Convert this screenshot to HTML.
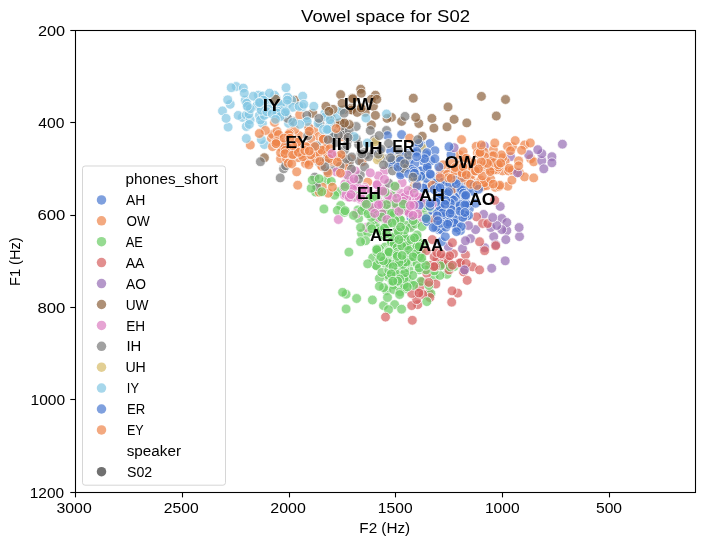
<!DOCTYPE html>
<html><head><meta charset="utf-8"><title>Vowel space for S02</title>
<style>
html,body{margin:0;padding:0;background:#fff;}
body{width:704px;height:545px;overflow:hidden;font-family:"Liberation Sans",sans-serif;}
svg{display:block;will-change:transform;opacity:0.999;}
text{font-family:"Liberation Sans",sans-serif;fill:#000;}
.tl{font-size:14px;}
.ti{font-size:16.6px;}
.lb{font-size:16.2px;font-weight:bold;}
.tk{stroke:#000;stroke-width:1.1;}
.pts circle{fill-opacity:0.7;stroke:#fff;stroke-width:1;stroke-opacity:0.7;}
</style></head><body>
<svg width="704" height="545" viewBox="0 0 704 545">
<rect x="0" y="0" width="704" height="545" fill="#fff"/>
<g class="pts">
<circle cx="288.6" cy="123.4" r="4.9" fill="#82c6e2"/>
<circle cx="407.9" cy="281.3" r="4.9" fill="#6acc64"/>
<circle cx="401.6" cy="134.6" r="4.9" fill="#4878d0"/>
<circle cx="478.2" cy="169.6" r="4.9" fill="#ee854a"/>
<circle cx="453.1" cy="190.0" r="4.9" fill="#4878d0"/>
<circle cx="400.9" cy="220.5" r="4.9" fill="#6acc64"/>
<circle cx="395.1" cy="216.4" r="4.9" fill="#dc7ec0"/>
<circle cx="388.1" cy="252.2" r="4.9" fill="#6acc64"/>
<circle cx="283.6" cy="168.8" r="4.9" fill="#797979"/>
<circle cx="502.5" cy="170.9" r="4.9" fill="#ee854a"/>
<circle cx="400.3" cy="165.3" r="4.9" fill="#797979"/>
<circle cx="429.9" cy="143.6" r="4.9" fill="#4878d0"/>
<circle cx="411.7" cy="283.0" r="4.9" fill="#6acc64"/>
<circle cx="460.8" cy="210.0" r="4.9" fill="#4878d0"/>
<circle cx="365.3" cy="154.9" r="4.9" fill="#797979"/>
<circle cx="400.1" cy="249.9" r="4.9" fill="#6acc64"/>
<circle cx="390.7" cy="242.6" r="4.9" fill="#6acc64"/>
<circle cx="286.6" cy="148.6" r="4.9" fill="#ee854a"/>
<circle cx="413.1" cy="188.2" r="4.9" fill="#6acc64"/>
<circle cx="470.5" cy="238.6" r="4.9" fill="#956cb4"/>
<circle cx="380.0" cy="231.4" r="4.9" fill="#6acc64"/>
<circle cx="510.5" cy="156.7" r="4.9" fill="#956cb4"/>
<circle cx="434.9" cy="201.4" r="4.9" fill="#4878d0"/>
<circle cx="422.7" cy="281.6" r="4.9" fill="#d65f5f"/>
<circle cx="400.4" cy="266.3" r="4.9" fill="#6acc64"/>
<circle cx="417.8" cy="242.1" r="4.9" fill="#6acc64"/>
<circle cx="448.0" cy="106.9" r="4.9" fill="#8c613c"/>
<circle cx="375.8" cy="218.6" r="4.9" fill="#6acc64"/>
<circle cx="401.5" cy="207.7" r="4.9" fill="#dc7ec0"/>
<circle cx="320.9" cy="164.8" r="4.9" fill="#ee854a"/>
<circle cx="361.2" cy="108.9" r="4.9" fill="#8c613c"/>
<circle cx="465.5" cy="254.8" r="4.9" fill="#d65f5f"/>
<circle cx="299.1" cy="135.6" r="4.9" fill="#ee854a"/>
<circle cx="454.1" cy="266.6" r="4.9" fill="#6acc64"/>
<circle cx="457.5" cy="185.4" r="4.9" fill="#4878d0"/>
<circle cx="454.7" cy="196.0" r="4.9" fill="#4878d0"/>
<circle cx="351.2" cy="158.8" r="4.9" fill="#ee854a"/>
<circle cx="454.2" cy="208.0" r="4.9" fill="#4878d0"/>
<circle cx="230.2" cy="104.3" r="4.9" fill="#82c6e2"/>
<circle cx="381.8" cy="249.7" r="4.9" fill="#6acc64"/>
<circle cx="246.3" cy="126.5" r="4.9" fill="#82c6e2"/>
<circle cx="394.9" cy="241.7" r="4.9" fill="#6acc64"/>
<circle cx="383.5" cy="305.6" r="4.9" fill="#6acc64"/>
<circle cx="366.3" cy="154.7" r="4.9" fill="#797979"/>
<circle cx="373.3" cy="153.1" r="4.9" fill="#797979"/>
<circle cx="280.6" cy="158.7" r="4.9" fill="#ee854a"/>
<circle cx="464.5" cy="177.1" r="4.9" fill="#4878d0"/>
<circle cx="372.7" cy="257.8" r="4.9" fill="#6acc64"/>
<circle cx="236.2" cy="86.5" r="4.9" fill="#82c6e2"/>
<circle cx="285.6" cy="165.8" r="4.9" fill="#797979"/>
<circle cx="403.2" cy="199.2" r="4.9" fill="#dc7ec0"/>
<circle cx="493.7" cy="236.6" r="4.9" fill="#956cb4"/>
<circle cx="351.0" cy="109.8" r="4.9" fill="#8c613c"/>
<circle cx="479.0" cy="171.0" r="4.9" fill="#ee854a"/>
<circle cx="412.8" cy="178.7" r="4.9" fill="#4878d0"/>
<circle cx="444.3" cy="219.5" r="4.9" fill="#4878d0"/>
<circle cx="306.2" cy="120.0" r="4.9" fill="#82c6e2"/>
<circle cx="361.6" cy="161.3" r="4.9" fill="#ee854a"/>
<circle cx="410.7" cy="167.8" r="4.9" fill="#4878d0"/>
<circle cx="270.1" cy="101.1" r="4.9" fill="#82c6e2"/>
<circle cx="352.2" cy="187.7" r="4.9" fill="#dc7ec0"/>
<circle cx="390.9" cy="194.3" r="4.9" fill="#dc7ec0"/>
<circle cx="333.9" cy="167.4" r="4.9" fill="#797979"/>
<circle cx="459.4" cy="263.3" r="4.9" fill="#d65f5f"/>
<circle cx="462.9" cy="192.5" r="4.9" fill="#4878d0"/>
<circle cx="420.8" cy="176.9" r="4.9" fill="#6acc64"/>
<circle cx="345.5" cy="158.6" r="4.9" fill="#ee854a"/>
<circle cx="360.8" cy="193.7" r="4.9" fill="#dc7ec0"/>
<circle cx="280.4" cy="145.2" r="4.9" fill="#ee854a"/>
<circle cx="262.7" cy="115.6" r="4.9" fill="#82c6e2"/>
<circle cx="407.7" cy="153.7" r="4.9" fill="#4878d0"/>
<circle cx="459.1" cy="154.7" r="4.9" fill="#ee854a"/>
<circle cx="460.0" cy="208.3" r="4.9" fill="#4878d0"/>
<circle cx="294.7" cy="100.2" r="4.9" fill="#8c613c"/>
<circle cx="433.0" cy="211.0" r="4.9" fill="#4878d0"/>
<circle cx="432.2" cy="239.6" r="4.9" fill="#d65f5f"/>
<circle cx="262.4" cy="123.4" r="4.9" fill="#82c6e2"/>
<circle cx="451.1" cy="216.1" r="4.9" fill="#4878d0"/>
<circle cx="448.4" cy="209.6" r="4.9" fill="#4878d0"/>
<circle cx="444.2" cy="204.1" r="4.9" fill="#4878d0"/>
<circle cx="409.9" cy="249.7" r="4.9" fill="#6acc64"/>
<circle cx="386.5" cy="290.5" r="4.9" fill="#6acc64"/>
<circle cx="418.3" cy="292.3" r="4.9" fill="#d65f5f"/>
<circle cx="297.9" cy="157.7" r="4.9" fill="#ee854a"/>
<circle cx="470.6" cy="164.8" r="4.9" fill="#ee854a"/>
<circle cx="361.6" cy="233.6" r="4.9" fill="#6acc64"/>
<circle cx="484.9" cy="181.9" r="4.9" fill="#ee854a"/>
<circle cx="402.9" cy="253.1" r="4.9" fill="#6acc64"/>
<circle cx="480.5" cy="187.1" r="4.9" fill="#ee854a"/>
<circle cx="318.9" cy="161.7" r="4.9" fill="#797979"/>
<circle cx="379.9" cy="157.7" r="4.9" fill="#797979"/>
<circle cx="519.6" cy="172.9" r="4.9" fill="#ee854a"/>
<circle cx="295.0" cy="150.6" r="4.9" fill="#ee854a"/>
<circle cx="414.6" cy="185.8" r="4.9" fill="#ee854a"/>
<circle cx="291.7" cy="100.2" r="4.9" fill="#82c6e2"/>
<circle cx="506.8" cy="230.6" r="4.9" fill="#956cb4"/>
<circle cx="453.4" cy="253.8" r="4.9" fill="#d65f5f"/>
<circle cx="441.3" cy="192.2" r="4.9" fill="#4878d0"/>
<circle cx="431.6" cy="207.8" r="4.9" fill="#4878d0"/>
<circle cx="383.7" cy="233.0" r="4.9" fill="#6acc64"/>
<circle cx="462.5" cy="248.7" r="4.9" fill="#956cb4"/>
<circle cx="259.4" cy="115.4" r="4.9" fill="#82c6e2"/>
<circle cx="376.9" cy="184.8" r="4.9" fill="#dc7ec0"/>
<circle cx="453.4" cy="218.5" r="4.9" fill="#6acc64"/>
<circle cx="390.4" cy="258.4" r="4.9" fill="#6acc64"/>
<circle cx="524.6" cy="176.9" r="4.9" fill="#ee854a"/>
<circle cx="417.8" cy="304.6" r="4.9" fill="#d65f5f"/>
<circle cx="287.6" cy="97.2" r="4.9" fill="#82c6e2"/>
<circle cx="453.5" cy="214.8" r="4.9" fill="#4878d0"/>
<circle cx="271.4" cy="138.4" r="4.9" fill="#ee854a"/>
<circle cx="294.7" cy="129.5" r="4.9" fill="#ee854a"/>
<circle cx="403.6" cy="167.8" r="4.9" fill="#4878d0"/>
<circle cx="262.0" cy="107.5" r="4.9" fill="#82c6e2"/>
<circle cx="260.4" cy="120.0" r="4.9" fill="#82c6e2"/>
<circle cx="415.6" cy="181.5" r="4.9" fill="#ee854a"/>
<circle cx="340.7" cy="205.5" r="4.9" fill="#6acc64"/>
<circle cx="424.2" cy="214.4" r="4.9" fill="#6acc64"/>
<circle cx="379.4" cy="150.7" r="4.9" fill="#4878d0"/>
<circle cx="372.4" cy="200.0" r="4.9" fill="#6acc64"/>
<circle cx="428.9" cy="293.2" r="4.9" fill="#d65f5f"/>
<circle cx="461.1" cy="218.7" r="4.9" fill="#4878d0"/>
<circle cx="463.4" cy="179.9" r="4.9" fill="#ee854a"/>
<circle cx="501.8" cy="218.5" r="4.9" fill="#956cb4"/>
<circle cx="390.7" cy="254.4" r="4.9" fill="#6acc64"/>
<circle cx="306.8" cy="160.7" r="4.9" fill="#ee854a"/>
<circle cx="362.1" cy="161.8" r="4.9" fill="#ee854a"/>
<circle cx="394.9" cy="205.3" r="4.9" fill="#dc7ec0"/>
<circle cx="411.7" cy="305.6" r="4.9" fill="#d65f5f"/>
<circle cx="436.9" cy="263.5" r="4.9" fill="#d65f5f"/>
<circle cx="451.9" cy="210.3" r="4.9" fill="#4878d0"/>
<circle cx="430.9" cy="293.5" r="4.9" fill="#6acc64"/>
<circle cx="437.2" cy="258.9" r="4.9" fill="#d65f5f"/>
<circle cx="313.8" cy="130.5" r="4.9" fill="#ee854a"/>
<circle cx="530.7" cy="158.8" r="4.9" fill="#ee854a"/>
<circle cx="323.9" cy="209.0" r="4.9" fill="#6acc64"/>
<circle cx="392.6" cy="195.7" r="4.9" fill="#6acc64"/>
<circle cx="348.2" cy="139.6" r="4.9" fill="#797979"/>
<circle cx="512.5" cy="146.7" r="4.9" fill="#ee854a"/>
<circle cx="398.9" cy="226.5" r="4.9" fill="#dc7ec0"/>
<circle cx="358.6" cy="144.6" r="4.9" fill="#797979"/>
<circle cx="410.6" cy="242.3" r="4.9" fill="#6acc64"/>
<circle cx="505.5" cy="99.5" r="4.9" fill="#8c613c"/>
<circle cx="422.1" cy="261.8" r="4.9" fill="#6acc64"/>
<circle cx="280.6" cy="146.6" r="4.9" fill="#ee854a"/>
<circle cx="404.4" cy="244.6" r="4.9" fill="#6acc64"/>
<circle cx="272.5" cy="134.5" r="4.9" fill="#ee854a"/>
<circle cx="438.6" cy="219.0" r="4.9" fill="#4878d0"/>
<circle cx="507.8" cy="186.2" r="4.9" fill="#ee854a"/>
<circle cx="367.7" cy="182.1" r="4.9" fill="#ee854a"/>
<circle cx="318.9" cy="136.5" r="4.9" fill="#ee854a"/>
<circle cx="459.2" cy="190.5" r="4.9" fill="#4878d0"/>
<circle cx="471.4" cy="180.7" r="4.9" fill="#ee854a"/>
<circle cx="361.8" cy="188.4" r="4.9" fill="#dc7ec0"/>
<circle cx="458.9" cy="214.6" r="4.9" fill="#4878d0"/>
<circle cx="458.4" cy="204.7" r="4.9" fill="#4878d0"/>
<circle cx="407.8" cy="166.0" r="4.9" fill="#4878d0"/>
<circle cx="446.9" cy="218.4" r="4.9" fill="#4878d0"/>
<circle cx="308.1" cy="127.3" r="4.9" fill="#82c6e2"/>
<circle cx="242.3" cy="117.4" r="4.9" fill="#82c6e2"/>
<circle cx="343.3" cy="109.8" r="4.9" fill="#8c613c"/>
<circle cx="433.9" cy="276.4" r="4.9" fill="#6acc64"/>
<circle cx="484.6" cy="247.7" r="4.9" fill="#956cb4"/>
<circle cx="402.1" cy="182.8" r="4.9" fill="#dc7ec0"/>
<circle cx="386.5" cy="213.6" r="4.9" fill="#dc7ec0"/>
<circle cx="409.0" cy="269.9" r="4.9" fill="#6acc64"/>
<circle cx="250.3" cy="145.0" r="4.9" fill="#ee854a"/>
<circle cx="404.9" cy="250.0" r="4.9" fill="#6acc64"/>
<circle cx="364.8" cy="187.7" r="4.9" fill="#dc7ec0"/>
<circle cx="341.6" cy="123.0" r="4.9" fill="#8c613c"/>
<circle cx="486.7" cy="169.0" r="4.9" fill="#ee854a"/>
<circle cx="394.9" cy="252.3" r="4.9" fill="#6acc64"/>
<circle cx="322.9" cy="137.5" r="4.9" fill="#ee854a"/>
<circle cx="398.0" cy="237.6" r="4.9" fill="#6acc64"/>
<circle cx="533.7" cy="177.9" r="4.9" fill="#ee854a"/>
<circle cx="481.5" cy="168.5" r="4.9" fill="#ee854a"/>
<circle cx="468.9" cy="166.1" r="4.9" fill="#ee854a"/>
<circle cx="414.5" cy="245.6" r="4.9" fill="#6acc64"/>
<circle cx="454.7" cy="200.4" r="4.9" fill="#4878d0"/>
<circle cx="293.7" cy="121.4" r="4.9" fill="#797979"/>
<circle cx="376.3" cy="220.8" r="4.9" fill="#6acc64"/>
<circle cx="411.0" cy="217.5" r="4.9" fill="#4878d0"/>
<circle cx="428.0" cy="219.1" r="4.9" fill="#6acc64"/>
<circle cx="382.5" cy="157.9" r="4.9" fill="#797979"/>
<circle cx="446.3" cy="191.2" r="4.9" fill="#4878d0"/>
<circle cx="505.1" cy="161.4" r="4.9" fill="#ee854a"/>
<circle cx="505.2" cy="260.8" r="4.9" fill="#956cb4"/>
<circle cx="365.1" cy="210.3" r="4.9" fill="#6acc64"/>
<circle cx="310.0" cy="161.1" r="4.9" fill="#ee854a"/>
<circle cx="282.6" cy="115.4" r="4.9" fill="#82c6e2"/>
<circle cx="280.8" cy="114.1" r="4.9" fill="#82c6e2"/>
<circle cx="344.5" cy="195.3" r="4.9" fill="#dc7ec0"/>
<circle cx="463.2" cy="183.2" r="4.9" fill="#4878d0"/>
<circle cx="319.9" cy="123.4" r="4.9" fill="#797979"/>
<circle cx="411.0" cy="225.5" r="4.9" fill="#dc7ec0"/>
<circle cx="301.4" cy="146.8" r="4.9" fill="#ee854a"/>
<circle cx="444.6" cy="207.6" r="4.9" fill="#4878d0"/>
<circle cx="347.1" cy="161.9" r="4.9" fill="#ee854a"/>
<circle cx="375.4" cy="95.2" r="4.9" fill="#8c613c"/>
<circle cx="401.7" cy="202.0" r="4.9" fill="#dc7ec0"/>
<circle cx="312.8" cy="113.3" r="4.9" fill="#8c613c"/>
<circle cx="399.6" cy="154.7" r="4.9" fill="#4878d0"/>
<circle cx="421.1" cy="171.1" r="4.9" fill="#4878d0"/>
<circle cx="401.6" cy="158.1" r="4.9" fill="#797979"/>
<circle cx="472.5" cy="266.9" r="4.9" fill="#d65f5f"/>
<circle cx="281.4" cy="104.8" r="4.9" fill="#82c6e2"/>
<circle cx="385.7" cy="261.0" r="4.9" fill="#6acc64"/>
<circle cx="480.6" cy="185.2" r="4.9" fill="#ee854a"/>
<circle cx="450.3" cy="169.9" r="4.9" fill="#ee854a"/>
<circle cx="428.7" cy="218.3" r="4.9" fill="#4878d0"/>
<circle cx="464.8" cy="167.7" r="4.9" fill="#ee854a"/>
<circle cx="400.9" cy="193.2" r="4.9" fill="#dc7ec0"/>
<circle cx="408.4" cy="256.3" r="4.9" fill="#6acc64"/>
<circle cx="358.6" cy="218.5" r="4.9" fill="#6acc64"/>
<circle cx="265.0" cy="100.8" r="4.9" fill="#82c6e2"/>
<circle cx="447.1" cy="257.2" r="4.9" fill="#d65f5f"/>
<circle cx="417.9" cy="200.9" r="4.9" fill="#dc7ec0"/>
<circle cx="394.7" cy="257.1" r="4.9" fill="#6acc64"/>
<circle cx="373.4" cy="106.3" r="4.9" fill="#8c613c"/>
<circle cx="347.3" cy="135.0" r="4.9" fill="#797979"/>
<circle cx="339.0" cy="161.7" r="4.9" fill="#ee854a"/>
<circle cx="481.0" cy="186.7" r="4.9" fill="#ee854a"/>
<circle cx="438.7" cy="229.5" r="4.9" fill="#4878d0"/>
<circle cx="460.6" cy="175.7" r="4.9" fill="#ee854a"/>
<circle cx="400.9" cy="173.1" r="4.9" fill="#4878d0"/>
<circle cx="339.6" cy="160.3" r="4.9" fill="#ee854a"/>
<circle cx="340.6" cy="94.6" r="4.9" fill="#8c613c"/>
<circle cx="412.3" cy="320.3" r="4.9" fill="#d65f5f"/>
<circle cx="414.3" cy="252.4" r="4.9" fill="#6acc64"/>
<circle cx="487.6" cy="182.2" r="4.9" fill="#ee854a"/>
<circle cx="400.9" cy="255.6" r="4.9" fill="#6acc64"/>
<circle cx="258.4" cy="103.3" r="4.9" fill="#82c6e2"/>
<circle cx="458.4" cy="201.3" r="4.9" fill="#4878d0"/>
<circle cx="404.6" cy="269.3" r="4.9" fill="#6acc64"/>
<circle cx="243.3" cy="88.1" r="4.9" fill="#82c6e2"/>
<circle cx="403.1" cy="156.8" r="4.9" fill="#4878d0"/>
<circle cx="346.1" cy="294.2" r="4.9" fill="#6acc64"/>
<circle cx="318.1" cy="123.3" r="4.9" fill="#82c6e2"/>
<circle cx="405.4" cy="259.7" r="4.9" fill="#6acc64"/>
<circle cx="299.7" cy="114.8" r="4.9" fill="#ee854a"/>
<circle cx="551.9" cy="156.7" r="4.9" fill="#956cb4"/>
<circle cx="379.4" cy="203.6" r="4.9" fill="#dc7ec0"/>
<circle cx="394.5" cy="213.4" r="4.9" fill="#6acc64"/>
<circle cx="416.6" cy="198.9" r="4.9" fill="#dc7ec0"/>
<circle cx="426.8" cy="166.8" r="4.9" fill="#4878d0"/>
<circle cx="398.0" cy="263.0" r="4.9" fill="#6acc64"/>
<circle cx="317.4" cy="184.8" r="4.9" fill="#6acc64"/>
<circle cx="435.9" cy="284.0" r="4.9" fill="#d65f5f"/>
<circle cx="448.3" cy="246.7" r="4.9" fill="#956cb4"/>
<circle cx="324.9" cy="148.6" r="4.9" fill="#ee854a"/>
<circle cx="340.1" cy="156.7" r="4.9" fill="#797979"/>
<circle cx="365.6" cy="205.3" r="4.9" fill="#dc7ec0"/>
<circle cx="445.0" cy="174.9" r="4.9" fill="#ee854a"/>
<circle cx="342.1" cy="136.6" r="4.9" fill="#ee854a"/>
<circle cx="384.5" cy="170.9" r="4.9" fill="#dc7ec0"/>
<circle cx="384.9" cy="247.1" r="4.9" fill="#6acc64"/>
<circle cx="314.8" cy="177.1" r="4.9" fill="#797979"/>
<circle cx="491.2" cy="170.9" r="4.9" fill="#ee854a"/>
<circle cx="404.5" cy="238.6" r="4.9" fill="#6acc64"/>
<circle cx="341.4" cy="128.0" r="4.9" fill="#8c613c"/>
<circle cx="451.0" cy="200.4" r="4.9" fill="#4878d0"/>
<circle cx="398.4" cy="248.0" r="4.9" fill="#6acc64"/>
<circle cx="396.6" cy="165.8" r="4.9" fill="#d5bb67"/>
<circle cx="434.9" cy="150.7" r="4.9" fill="#4878d0"/>
<circle cx="340.2" cy="122.6" r="4.9" fill="#8c613c"/>
<circle cx="337.0" cy="123.4" r="4.9" fill="#8c613c"/>
<circle cx="493.4" cy="161.8" r="4.9" fill="#ee854a"/>
<circle cx="438.2" cy="184.2" r="4.9" fill="#6acc64"/>
<circle cx="386.0" cy="222.0" r="4.9" fill="#6acc64"/>
<circle cx="407.3" cy="249.9" r="4.9" fill="#6acc64"/>
<circle cx="524.6" cy="145.0" r="4.9" fill="#ee854a"/>
<circle cx="462.8" cy="192.1" r="4.9" fill="#4878d0"/>
<circle cx="400.2" cy="257.7" r="4.9" fill="#6acc64"/>
<circle cx="441.8" cy="184.2" r="4.9" fill="#4878d0"/>
<circle cx="315.5" cy="192.0" r="4.9" fill="#6acc64"/>
<circle cx="396.3" cy="236.8" r="4.9" fill="#6acc64"/>
<circle cx="295.8" cy="140.8" r="4.9" fill="#ee854a"/>
<circle cx="487.3" cy="163.8" r="4.9" fill="#ee854a"/>
<circle cx="393.9" cy="214.9" r="4.9" fill="#6acc64"/>
<circle cx="451.0" cy="154.7" r="4.9" fill="#4878d0"/>
<circle cx="247.8" cy="114.8" r="4.9" fill="#82c6e2"/>
<circle cx="493.4" cy="149.7" r="4.9" fill="#ee854a"/>
<circle cx="436.2" cy="185.4" r="4.9" fill="#4878d0"/>
<circle cx="344.9" cy="183.9" r="4.9" fill="#dc7ec0"/>
<circle cx="387.2" cy="276.5" r="4.9" fill="#6acc64"/>
<circle cx="426.3" cy="185.5" r="4.9" fill="#4878d0"/>
<circle cx="257.9" cy="102.7" r="4.9" fill="#82c6e2"/>
<circle cx="331.0" cy="117.4" r="4.9" fill="#8c613c"/>
<circle cx="427.2" cy="215.5" r="4.9" fill="#d65f5f"/>
<circle cx="308.8" cy="127.5" r="4.9" fill="#ee854a"/>
<circle cx="456.2" cy="190.1" r="4.9" fill="#4878d0"/>
<circle cx="429.9" cy="297.5" r="4.9" fill="#d65f5f"/>
<circle cx="456.5" cy="215.1" r="4.9" fill="#4878d0"/>
<circle cx="460.4" cy="230.6" r="4.9" fill="#4878d0"/>
<circle cx="482.1" cy="164.2" r="4.9" fill="#ee854a"/>
<circle cx="378.3" cy="251.6" r="4.9" fill="#6acc64"/>
<circle cx="385.8" cy="263.8" r="4.9" fill="#6acc64"/>
<circle cx="411.7" cy="199.0" r="4.9" fill="#dc7ec0"/>
<circle cx="395.8" cy="187.1" r="4.9" fill="#dc7ec0"/>
<circle cx="420.8" cy="144.6" r="4.9" fill="#4878d0"/>
<circle cx="483.1" cy="186.5" r="4.9" fill="#ee854a"/>
<circle cx="454.9" cy="211.1" r="4.9" fill="#4878d0"/>
<circle cx="398.9" cy="269.9" r="4.9" fill="#6acc64"/>
<circle cx="376.7" cy="205.3" r="4.9" fill="#dc7ec0"/>
<circle cx="375.4" cy="115.4" r="4.9" fill="#8c613c"/>
<circle cx="441.3" cy="241.7" r="4.9" fill="#4878d0"/>
<circle cx="275.3" cy="99.5" r="4.9" fill="#82c6e2"/>
<circle cx="396.4" cy="250.8" r="4.9" fill="#6acc64"/>
<circle cx="411.0" cy="257.2" r="4.9" fill="#6acc64"/>
<circle cx="462.8" cy="186.5" r="4.9" fill="#4878d0"/>
<circle cx="379.7" cy="249.2" r="4.9" fill="#6acc64"/>
<circle cx="348.2" cy="164.8" r="4.9" fill="#ee854a"/>
<circle cx="470.6" cy="183.3" r="4.9" fill="#ee854a"/>
<circle cx="306.8" cy="115.4" r="4.9" fill="#797979"/>
<circle cx="409.0" cy="195.3" r="4.9" fill="#dc7ec0"/>
<circle cx="409.8" cy="241.4" r="4.9" fill="#6acc64"/>
<circle cx="460.4" cy="171.1" r="4.9" fill="#ee854a"/>
<circle cx="419.8" cy="287.5" r="4.9" fill="#d65f5f"/>
<circle cx="446.9" cy="191.4" r="4.9" fill="#4878d0"/>
<circle cx="377.5" cy="198.7" r="4.9" fill="#dc7ec0"/>
<circle cx="486.6" cy="185.7" r="4.9" fill="#ee854a"/>
<circle cx="308.4" cy="147.1" r="4.9" fill="#ee854a"/>
<circle cx="426.6" cy="178.4" r="4.9" fill="#4878d0"/>
<circle cx="445.7" cy="197.8" r="4.9" fill="#4878d0"/>
<circle cx="348.2" cy="175.9" r="4.9" fill="#6acc64"/>
<circle cx="452.6" cy="185.0" r="4.9" fill="#4878d0"/>
<circle cx="436.0" cy="219.8" r="4.9" fill="#4878d0"/>
<circle cx="337.1" cy="116.4" r="4.9" fill="#82c6e2"/>
<circle cx="394.6" cy="304.6" r="4.9" fill="#6acc64"/>
<circle cx="303.8" cy="152.9" r="4.9" fill="#ee854a"/>
<circle cx="450.9" cy="212.9" r="4.9" fill="#4878d0"/>
<circle cx="287.1" cy="104.2" r="4.9" fill="#82c6e2"/>
<circle cx="455.5" cy="189.3" r="4.9" fill="#4878d0"/>
<circle cx="385.3" cy="254.2" r="4.9" fill="#6acc64"/>
<circle cx="451.8" cy="163.4" r="4.9" fill="#ee854a"/>
<circle cx="475.6" cy="229.6" r="4.9" fill="#956cb4"/>
<circle cx="333.2" cy="131.1" r="4.9" fill="#797979"/>
<circle cx="374.7" cy="225.5" r="4.9" fill="#6acc64"/>
<circle cx="431.9" cy="203.3" r="4.9" fill="#6acc64"/>
<circle cx="282.6" cy="139.6" r="4.9" fill="#ee854a"/>
<circle cx="440.3" cy="212.4" r="4.9" fill="#4878d0"/>
<circle cx="327.3" cy="171.1" r="4.9" fill="#797979"/>
<circle cx="467.7" cy="189.3" r="4.9" fill="#4878d0"/>
<circle cx="371.4" cy="99.3" r="4.9" fill="#8c613c"/>
<circle cx="406.7" cy="239.0" r="4.9" fill="#6acc64"/>
<circle cx="360.7" cy="89.2" r="4.9" fill="#8c613c"/>
<circle cx="382.6" cy="189.0" r="4.9" fill="#dc7ec0"/>
<circle cx="426.7" cy="168.1" r="4.9" fill="#4878d0"/>
<circle cx="408.4" cy="250.2" r="4.9" fill="#6acc64"/>
<circle cx="402.4" cy="162.3" r="4.9" fill="#4878d0"/>
<circle cx="264.4" cy="115.4" r="4.9" fill="#82c6e2"/>
<circle cx="356.8" cy="185.1" r="4.9" fill="#dc7ec0"/>
<circle cx="417.3" cy="147.4" r="4.9" fill="#4878d0"/>
<circle cx="433.0" cy="220.2" r="4.9" fill="#4878d0"/>
<circle cx="310.8" cy="138.5" r="4.9" fill="#ee854a"/>
<circle cx="338.1" cy="191.7" r="4.9" fill="#6acc64"/>
<circle cx="286.6" cy="158.7" r="4.9" fill="#ee854a"/>
<circle cx="492.4" cy="164.3" r="4.9" fill="#ee854a"/>
<circle cx="502.5" cy="157.8" r="4.9" fill="#ee854a"/>
<circle cx="445.0" cy="179.5" r="4.9" fill="#ee854a"/>
<circle cx="329.5" cy="125.9" r="4.9" fill="#82c6e2"/>
<circle cx="388.5" cy="275.4" r="4.9" fill="#6acc64"/>
<circle cx="406.7" cy="199.2" r="4.9" fill="#dc7ec0"/>
<circle cx="288.1" cy="135.6" r="4.9" fill="#ee854a"/>
<circle cx="349.2" cy="162.5" r="4.9" fill="#797979"/>
<circle cx="404.2" cy="197.1" r="4.9" fill="#dc7ec0"/>
<circle cx="386.9" cy="201.6" r="4.9" fill="#6acc64"/>
<circle cx="364.3" cy="189.3" r="4.9" fill="#dc7ec0"/>
<circle cx="264.4" cy="144.6" r="4.9" fill="#82c6e2"/>
<circle cx="340.4" cy="157.6" r="4.9" fill="#ee854a"/>
<circle cx="446.2" cy="219.9" r="4.9" fill="#4878d0"/>
<circle cx="419.1" cy="197.3" r="4.9" fill="#dc7ec0"/>
<circle cx="392.1" cy="261.5" r="4.9" fill="#6acc64"/>
<circle cx="405.8" cy="166.4" r="4.9" fill="#797979"/>
<circle cx="495.3" cy="187.3" r="4.9" fill="#ee854a"/>
<circle cx="366.3" cy="200.7" r="4.9" fill="#dc7ec0"/>
<circle cx="369.3" cy="207.5" r="4.9" fill="#6acc64"/>
<circle cx="392.8" cy="205.0" r="4.9" fill="#dc7ec0"/>
<circle cx="389.2" cy="260.9" r="4.9" fill="#6acc64"/>
<circle cx="365.8" cy="202.9" r="4.9" fill="#dc7ec0"/>
<circle cx="333.5" cy="132.7" r="4.9" fill="#797979"/>
<circle cx="421.1" cy="253.8" r="4.9" fill="#6acc64"/>
<circle cx="459.4" cy="208.4" r="4.9" fill="#4878d0"/>
<circle cx="464.5" cy="180.1" r="4.9" fill="#ee854a"/>
<circle cx="314.8" cy="158.7" r="4.9" fill="#ee854a"/>
<circle cx="454.0" cy="174.9" r="4.9" fill="#ee854a"/>
<circle cx="439.9" cy="175.9" r="4.9" fill="#956cb4"/>
<circle cx="341.1" cy="110.3" r="4.9" fill="#82c6e2"/>
<circle cx="280.6" cy="104.3" r="4.9" fill="#82c6e2"/>
<circle cx="440.3" cy="169.0" r="4.9" fill="#ee854a"/>
<circle cx="301.0" cy="154.6" r="4.9" fill="#ee854a"/>
<circle cx="456.4" cy="197.3" r="4.9" fill="#4878d0"/>
<circle cx="406.0" cy="225.3" r="4.9" fill="#6acc64"/>
<circle cx="384.5" cy="189.7" r="4.9" fill="#dc7ec0"/>
<circle cx="422.2" cy="136.2" r="4.9" fill="#8c613c"/>
<circle cx="459.6" cy="193.4" r="4.9" fill="#4878d0"/>
<circle cx="496.4" cy="169.9" r="4.9" fill="#ee854a"/>
<circle cx="396.4" cy="207.8" r="4.9" fill="#dc7ec0"/>
<circle cx="281.1" cy="110.8" r="4.9" fill="#82c6e2"/>
<circle cx="361.3" cy="93.2" r="4.9" fill="#8c613c"/>
<circle cx="494.8" cy="164.6" r="4.9" fill="#ee854a"/>
<circle cx="377.0" cy="252.2" r="4.9" fill="#6acc64"/>
<circle cx="507.5" cy="146.3" r="4.9" fill="#ee854a"/>
<circle cx="438.7" cy="202.8" r="4.9" fill="#4878d0"/>
<circle cx="402.2" cy="275.3" r="4.9" fill="#6acc64"/>
<circle cx="360.6" cy="199.3" r="4.9" fill="#dc7ec0"/>
<circle cx="399.3" cy="167.7" r="4.9" fill="#797979"/>
<circle cx="518.6" cy="160.8" r="4.9" fill="#ee854a"/>
<circle cx="436.2" cy="219.5" r="4.9" fill="#4878d0"/>
<circle cx="406.7" cy="277.4" r="4.9" fill="#6acc64"/>
<circle cx="287.1" cy="146.2" r="4.9" fill="#ee854a"/>
<circle cx="403.4" cy="163.0" r="4.9" fill="#4878d0"/>
<circle cx="481.7" cy="153.6" r="4.9" fill="#ee854a"/>
<circle cx="449.2" cy="222.9" r="4.9" fill="#4878d0"/>
<circle cx="418.9" cy="244.0" r="4.9" fill="#6acc64"/>
<circle cx="394.9" cy="259.8" r="4.9" fill="#6acc64"/>
<circle cx="377.7" cy="194.2" r="4.9" fill="#dc7ec0"/>
<circle cx="496.3" cy="116.0" r="4.9" fill="#8c613c"/>
<circle cx="452.4" cy="221.5" r="4.9" fill="#4878d0"/>
<circle cx="278.6" cy="139.9" r="4.9" fill="#ee854a"/>
<circle cx="222.5" cy="110.9" r="4.9" fill="#82c6e2"/>
<circle cx="363.7" cy="152.6" r="4.9" fill="#797979"/>
<circle cx="412.0" cy="249.7" r="4.9" fill="#6acc64"/>
<circle cx="460.9" cy="213.3" r="4.9" fill="#4878d0"/>
<circle cx="411.0" cy="261.8" r="4.9" fill="#6acc64"/>
<circle cx="432.2" cy="211.4" r="4.9" fill="#4878d0"/>
<circle cx="387.5" cy="297.5" r="4.9" fill="#6acc64"/>
<circle cx="366.5" cy="193.7" r="4.9" fill="#dc7ec0"/>
<circle cx="402.5" cy="161.5" r="4.9" fill="#4878d0"/>
<circle cx="428.8" cy="211.0" r="4.9" fill="#4878d0"/>
<circle cx="256.6" cy="106.1" r="4.9" fill="#82c6e2"/>
<circle cx="376.7" cy="265.9" r="4.9" fill="#6acc64"/>
<circle cx="454.1" cy="147.7" r="4.9" fill="#956cb4"/>
<circle cx="443.0" cy="185.6" r="4.9" fill="#4878d0"/>
<circle cx="442.8" cy="189.4" r="4.9" fill="#4878d0"/>
<circle cx="416.7" cy="299.6" r="4.9" fill="#d65f5f"/>
<circle cx="440.3" cy="189.2" r="4.9" fill="#4878d0"/>
<circle cx="356.2" cy="138.6" r="4.9" fill="#797979"/>
<circle cx="292.4" cy="155.6" r="4.9" fill="#ee854a"/>
<circle cx="435.4" cy="205.3" r="4.9" fill="#4878d0"/>
<circle cx="483.6" cy="167.5" r="4.9" fill="#ee854a"/>
<circle cx="404.3" cy="257.1" r="4.9" fill="#6acc64"/>
<circle cx="415.5" cy="178.8" r="4.9" fill="#ee854a"/>
<circle cx="391.5" cy="117.4" r="4.9" fill="#8c613c"/>
<circle cx="417.2" cy="176.3" r="4.9" fill="#797979"/>
<circle cx="458.4" cy="225.5" r="4.9" fill="#4878d0"/>
<circle cx="393.5" cy="284.7" r="4.9" fill="#6acc64"/>
<circle cx="298.1" cy="148.1" r="4.9" fill="#ee854a"/>
<circle cx="420.8" cy="281.4" r="4.9" fill="#6acc64"/>
<circle cx="483.0" cy="166.9" r="4.9" fill="#ee854a"/>
<circle cx="376.4" cy="145.0" r="4.9" fill="#d5bb67"/>
<circle cx="423.0" cy="212.4" r="4.9" fill="#6acc64"/>
<circle cx="350.7" cy="181.4" r="4.9" fill="#dc7ec0"/>
<circle cx="469.4" cy="208.6" r="4.9" fill="#4878d0"/>
<circle cx="447.3" cy="174.2" r="4.9" fill="#ee854a"/>
<circle cx="452.3" cy="189.4" r="4.9" fill="#4878d0"/>
<circle cx="406.6" cy="209.8" r="4.9" fill="#d65f5f"/>
<circle cx="356.2" cy="126.5" r="4.9" fill="#797979"/>
<circle cx="360.3" cy="174.9" r="4.9" fill="#797979"/>
<circle cx="394.6" cy="275.4" r="4.9" fill="#6acc64"/>
<circle cx="352.7" cy="188.9" r="4.9" fill="#dc7ec0"/>
<circle cx="457.7" cy="226.6" r="4.9" fill="#4878d0"/>
<circle cx="418.8" cy="123.5" r="4.9" fill="#8c613c"/>
<circle cx="391.0" cy="240.3" r="4.9" fill="#6acc64"/>
<circle cx="435.4" cy="218.5" r="4.9" fill="#d65f5f"/>
<circle cx="355.3" cy="171.0" r="4.9" fill="#dc7ec0"/>
<circle cx="429.9" cy="265.3" r="4.9" fill="#d65f5f"/>
<circle cx="457.7" cy="293.1" r="4.9" fill="#d65f5f"/>
<circle cx="238.2" cy="115.4" r="4.9" fill="#82c6e2"/>
<circle cx="344.1" cy="166.8" r="4.9" fill="#ee854a"/>
<circle cx="491.6" cy="155.8" r="4.9" fill="#ee854a"/>
<circle cx="448.7" cy="216.8" r="4.9" fill="#4878d0"/>
<circle cx="367.7" cy="232.6" r="4.9" fill="#6acc64"/>
<circle cx="356.6" cy="298.5" r="4.9" fill="#6acc64"/>
<circle cx="393.5" cy="289.5" r="4.9" fill="#6acc64"/>
<circle cx="390.5" cy="150.7" r="4.9" fill="#4878d0"/>
<circle cx="343.1" cy="129.5" r="4.9" fill="#797979"/>
<circle cx="358.0" cy="210.0" r="4.9" fill="#6acc64"/>
<circle cx="419.1" cy="269.9" r="4.9" fill="#6acc64"/>
<circle cx="441.7" cy="203.3" r="4.9" fill="#4878d0"/>
<circle cx="227.7" cy="99.8" r="4.9" fill="#82c6e2"/>
<circle cx="409.4" cy="246.8" r="4.9" fill="#6acc64"/>
<circle cx="426.8" cy="273.3" r="4.9" fill="#d65f5f"/>
<circle cx="330.9" cy="123.5" r="4.9" fill="#82c6e2"/>
<circle cx="389.0" cy="164.1" r="4.9" fill="#797979"/>
<circle cx="324.9" cy="113.3" r="4.9" fill="#82c6e2"/>
<circle cx="386.5" cy="207.7" r="4.9" fill="#6acc64"/>
<circle cx="398.5" cy="159.3" r="4.9" fill="#4878d0"/>
<circle cx="388.8" cy="249.7" r="4.9" fill="#6acc64"/>
<circle cx="463.5" cy="271.9" r="4.9" fill="#d65f5f"/>
<circle cx="305.5" cy="163.5" r="4.9" fill="#ee854a"/>
<circle cx="334.7" cy="195.2" r="4.9" fill="#6acc64"/>
<circle cx="461.0" cy="184.6" r="4.9" fill="#4878d0"/>
<circle cx="420.8" cy="170.9" r="4.9" fill="#4878d0"/>
<circle cx="434.2" cy="256.8" r="4.9" fill="#d65f5f"/>
<circle cx="472.4" cy="185.0" r="4.9" fill="#ee854a"/>
<circle cx="460.3" cy="187.6" r="4.9" fill="#4878d0"/>
<circle cx="530.3" cy="143.0" r="4.9" fill="#ee854a"/>
<circle cx="401.6" cy="257.2" r="4.9" fill="#6acc64"/>
<circle cx="416.5" cy="152.9" r="4.9" fill="#4878d0"/>
<circle cx="533.7" cy="161.8" r="4.9" fill="#ee854a"/>
<circle cx="388.9" cy="260.9" r="4.9" fill="#6acc64"/>
<circle cx="245.3" cy="100.2" r="4.9" fill="#82c6e2"/>
<circle cx="447.0" cy="274.3" r="4.9" fill="#6acc64"/>
<circle cx="334.0" cy="133.5" r="4.9" fill="#82c6e2"/>
<circle cx="444.3" cy="207.4" r="4.9" fill="#4878d0"/>
<circle cx="468.5" cy="225.5" r="4.9" fill="#956cb4"/>
<circle cx="376.3" cy="265.6" r="4.9" fill="#6acc64"/>
<circle cx="422.8" cy="160.8" r="4.9" fill="#4878d0"/>
<circle cx="444.3" cy="257.8" r="4.9" fill="#d65f5f"/>
<circle cx="258.4" cy="95.2" r="4.9" fill="#82c6e2"/>
<circle cx="450.5" cy="201.5" r="4.9" fill="#4878d0"/>
<circle cx="381.9" cy="211.5" r="4.9" fill="#6acc64"/>
<circle cx="429.0" cy="187.8" r="4.9" fill="#4878d0"/>
<circle cx="476.2" cy="146.3" r="4.9" fill="#ee854a"/>
<circle cx="428.8" cy="285.4" r="4.9" fill="#6acc64"/>
<circle cx="434.9" cy="183.0" r="4.9" fill="#4878d0"/>
<circle cx="388.8" cy="183.2" r="4.9" fill="#797979"/>
<circle cx="426.8" cy="205.9" r="4.9" fill="#6acc64"/>
<circle cx="331.4" cy="161.3" r="4.9" fill="#ee854a"/>
<circle cx="451.0" cy="176.9" r="4.9" fill="#ee854a"/>
<circle cx="443.0" cy="164.8" r="4.9" fill="#ee854a"/>
<circle cx="400.3" cy="219.7" r="4.9" fill="#6acc64"/>
<circle cx="430.4" cy="220.1" r="4.9" fill="#6acc64"/>
<circle cx="384.7" cy="210.5" r="4.9" fill="#6acc64"/>
<circle cx="356.3" cy="213.7" r="4.9" fill="#dc7ec0"/>
<circle cx="443.1" cy="182.1" r="4.9" fill="#4878d0"/>
<circle cx="445.1" cy="210.4" r="4.9" fill="#4878d0"/>
<circle cx="465.5" cy="240.7" r="4.9" fill="#956cb4"/>
<circle cx="417.1" cy="237.6" r="4.9" fill="#6acc64"/>
<circle cx="483.6" cy="214.4" r="4.9" fill="#956cb4"/>
<circle cx="405.1" cy="250.5" r="4.9" fill="#6acc64"/>
<circle cx="445.0" cy="265.3" r="4.9" fill="#6acc64"/>
<circle cx="365.6" cy="240.7" r="4.9" fill="#6acc64"/>
<circle cx="404.0" cy="236.6" r="4.9" fill="#6acc64"/>
<circle cx="506.8" cy="222.5" r="4.9" fill="#956cb4"/>
<circle cx="468.2" cy="168.5" r="4.9" fill="#ee854a"/>
<circle cx="386.3" cy="232.8" r="4.9" fill="#6acc64"/>
<circle cx="400.8" cy="249.9" r="4.9" fill="#6acc64"/>
<circle cx="484.3" cy="146.1" r="4.9" fill="#956cb4"/>
<circle cx="360.9" cy="154.0" r="4.9" fill="#797979"/>
<circle cx="348.4" cy="196.9" r="4.9" fill="#dc7ec0"/>
<circle cx="288.3" cy="163.2" r="4.9" fill="#ee854a"/>
<circle cx="321.8" cy="166.3" r="4.9" fill="#ee854a"/>
<circle cx="359.3" cy="160.8" r="4.9" fill="#797979"/>
<circle cx="425.9" cy="154.4" r="4.9" fill="#4878d0"/>
<circle cx="447.0" cy="126.9" r="4.9" fill="#8c613c"/>
<circle cx="417.1" cy="263.8" r="4.9" fill="#6acc64"/>
<circle cx="399.6" cy="282.4" r="4.9" fill="#6acc64"/>
<circle cx="461.5" cy="139.6" r="4.9" fill="#ee854a"/>
<circle cx="364.2" cy="206.9" r="4.9" fill="#6acc64"/>
<circle cx="443.0" cy="264.2" r="4.9" fill="#d65f5f"/>
<circle cx="420.8" cy="176.2" r="4.9" fill="#4878d0"/>
<circle cx="291.7" cy="163.8" r="4.9" fill="#ee854a"/>
<circle cx="391.0" cy="163.9" r="4.9" fill="#4878d0"/>
<circle cx="410.6" cy="227.5" r="4.9" fill="#6acc64"/>
<circle cx="411.7" cy="293.5" r="4.9" fill="#d65f5f"/>
<circle cx="307.7" cy="135.7" r="4.9" fill="#797979"/>
<circle cx="387.7" cy="204.4" r="4.9" fill="#dc7ec0"/>
<circle cx="379.8" cy="155.6" r="4.9" fill="#d5bb67"/>
<circle cx="439.6" cy="210.9" r="4.9" fill="#4878d0"/>
<circle cx="442.7" cy="215.8" r="4.9" fill="#4878d0"/>
<circle cx="366.7" cy="227.5" r="4.9" fill="#dc7ec0"/>
<circle cx="371.4" cy="124.9" r="4.9" fill="#8c613c"/>
<circle cx="430.9" cy="160.8" r="4.9" fill="#4878d0"/>
<circle cx="341.6" cy="173.6" r="4.9" fill="#dc7ec0"/>
<circle cx="435.8" cy="182.8" r="4.9" fill="#4878d0"/>
<circle cx="409.7" cy="138.2" r="4.9" fill="#ee854a"/>
<circle cx="460.0" cy="175.6" r="4.9" fill="#ee854a"/>
<circle cx="453.2" cy="207.2" r="4.9" fill="#4878d0"/>
<circle cx="262.5" cy="96.0" r="4.9" fill="#82c6e2"/>
<circle cx="407.5" cy="246.8" r="4.9" fill="#6acc64"/>
<circle cx="397.9" cy="248.4" r="4.9" fill="#6acc64"/>
<circle cx="374.5" cy="139.7" r="4.9" fill="#797979"/>
<circle cx="385.1" cy="227.7" r="4.9" fill="#6acc64"/>
<circle cx="344.4" cy="150.2" r="4.9" fill="#797979"/>
<circle cx="394.9" cy="220.5" r="4.9" fill="#6acc64"/>
<circle cx="466.8" cy="122.9" r="4.9" fill="#8c613c"/>
<circle cx="415.0" cy="172.1" r="4.9" fill="#797979"/>
<circle cx="500.2" cy="206.4" r="4.9" fill="#956cb4"/>
<circle cx="286.5" cy="114.9" r="4.9" fill="#82c6e2"/>
<circle cx="418.1" cy="241.7" r="4.9" fill="#6acc64"/>
<circle cx="272.5" cy="146.6" r="4.9" fill="#ee854a"/>
<circle cx="361.7" cy="210.7" r="4.9" fill="#6acc64"/>
<circle cx="307.2" cy="121.5" r="4.9" fill="#82c6e2"/>
<circle cx="471.0" cy="166.9" r="4.9" fill="#ee854a"/>
<circle cx="408.7" cy="160.8" r="4.9" fill="#4878d0"/>
<circle cx="246.2" cy="115.1" r="4.9" fill="#82c6e2"/>
<circle cx="457.0" cy="209.8" r="4.9" fill="#4878d0"/>
<circle cx="404.5" cy="248.8" r="4.9" fill="#6acc64"/>
<circle cx="444.7" cy="220.7" r="4.9" fill="#4878d0"/>
<circle cx="460.8" cy="164.4" r="4.9" fill="#ee854a"/>
<circle cx="395.8" cy="160.0" r="4.9" fill="#d5bb67"/>
<circle cx="276.0" cy="98.0" r="4.9" fill="#82c6e2"/>
<circle cx="404.3" cy="289.0" r="4.9" fill="#6acc64"/>
<circle cx="346.1" cy="159.1" r="4.9" fill="#797979"/>
<circle cx="401.6" cy="309.2" r="4.9" fill="#6acc64"/>
<circle cx="420.0" cy="218.9" r="4.9" fill="#dc7ec0"/>
<circle cx="508.5" cy="170.9" r="4.9" fill="#ee854a"/>
<circle cx="325.2" cy="116.7" r="4.9" fill="#82c6e2"/>
<circle cx="402.3" cy="242.8" r="4.9" fill="#6acc64"/>
<circle cx="346.1" cy="309.0" r="4.9" fill="#6acc64"/>
<circle cx="391.4" cy="242.2" r="4.9" fill="#6acc64"/>
<circle cx="360.6" cy="241.7" r="4.9" fill="#6acc64"/>
<circle cx="370.7" cy="225.5" r="4.9" fill="#6acc64"/>
<circle cx="475.6" cy="203.3" r="4.9" fill="#4878d0"/>
<circle cx="261.4" cy="139.6" r="4.9" fill="#82c6e2"/>
<circle cx="464.1" cy="176.9" r="4.9" fill="#4878d0"/>
<circle cx="436.8" cy="252.6" r="4.9" fill="#d65f5f"/>
<circle cx="424.1" cy="244.2" r="4.9" fill="#6acc64"/>
<circle cx="403.0" cy="265.9" r="4.9" fill="#6acc64"/>
<circle cx="313.8" cy="106.3" r="4.9" fill="#82c6e2"/>
<circle cx="289.4" cy="133.1" r="4.9" fill="#ee854a"/>
<circle cx="497.3" cy="163.2" r="4.9" fill="#ee854a"/>
<circle cx="378.4" cy="175.9" r="4.9" fill="#dc7ec0"/>
<circle cx="449.8" cy="216.0" r="4.9" fill="#4878d0"/>
<circle cx="288.8" cy="134.6" r="4.9" fill="#ee854a"/>
<circle cx="448.9" cy="215.2" r="4.9" fill="#4878d0"/>
<circle cx="386.5" cy="130.5" r="4.9" fill="#797979"/>
<circle cx="277.6" cy="111.1" r="4.9" fill="#82c6e2"/>
<circle cx="326.0" cy="180.5" r="4.9" fill="#6acc64"/>
<circle cx="449.0" cy="269.9" r="4.9" fill="#d65f5f"/>
<circle cx="250.1" cy="119.8" r="4.9" fill="#82c6e2"/>
<circle cx="501.4" cy="154.9" r="4.9" fill="#ee854a"/>
<circle cx="351.7" cy="108.0" r="4.9" fill="#8c613c"/>
<circle cx="387.5" cy="135.6" r="4.9" fill="#4878d0"/>
<circle cx="446.2" cy="221.0" r="4.9" fill="#4878d0"/>
<circle cx="494.1" cy="169.8" r="4.9" fill="#ee854a"/>
<circle cx="515.2" cy="140.6" r="4.9" fill="#ee854a"/>
<circle cx="370.7" cy="207.4" r="4.9" fill="#dc7ec0"/>
<circle cx="512.1" cy="170.3" r="4.9" fill="#ee854a"/>
<circle cx="541.8" cy="160.8" r="4.9" fill="#956cb4"/>
<circle cx="287.6" cy="118.4" r="4.9" fill="#797979"/>
<circle cx="333.0" cy="109.3" r="4.9" fill="#8c613c"/>
<circle cx="452.4" cy="189.2" r="4.9" fill="#ee854a"/>
<circle cx="383.8" cy="235.6" r="4.9" fill="#6acc64"/>
<circle cx="398.3" cy="149.9" r="4.9" fill="#797979"/>
<circle cx="392.5" cy="170.9" r="4.9" fill="#797979"/>
<circle cx="466.9" cy="215.7" r="4.9" fill="#4878d0"/>
<circle cx="414.6" cy="176.5" r="4.9" fill="#797979"/>
<circle cx="390.3" cy="199.7" r="4.9" fill="#dc7ec0"/>
<circle cx="372.9" cy="208.6" r="4.9" fill="#6acc64"/>
<circle cx="415.4" cy="224.0" r="4.9" fill="#6acc64"/>
<circle cx="315.7" cy="153.4" r="4.9" fill="#ee854a"/>
<circle cx="265.4" cy="130.5" r="4.9" fill="#ee854a"/>
<circle cx="277.0" cy="131.2" r="4.9" fill="#ee854a"/>
<circle cx="398.5" cy="255.6" r="4.9" fill="#6acc64"/>
<circle cx="342.1" cy="103.3" r="4.9" fill="#8c613c"/>
<circle cx="450.8" cy="179.7" r="4.9" fill="#4878d0"/>
<circle cx="364.6" cy="167.0" r="4.9" fill="#797979"/>
<circle cx="330.1" cy="119.8" r="4.9" fill="#82c6e2"/>
<circle cx="481.4" cy="96.4" r="4.9" fill="#8c613c"/>
<circle cx="285.3" cy="113.2" r="4.9" fill="#82c6e2"/>
<circle cx="322.3" cy="187.2" r="4.9" fill="#ee854a"/>
<circle cx="423.5" cy="188.2" r="4.9" fill="#4878d0"/>
<circle cx="493.4" cy="155.7" r="4.9" fill="#ee854a"/>
<circle cx="379.4" cy="278.4" r="4.9" fill="#6acc64"/>
<circle cx="388.5" cy="257.2" r="4.9" fill="#6acc64"/>
<circle cx="295.3" cy="149.0" r="4.9" fill="#ee854a"/>
<circle cx="392.3" cy="160.0" r="4.9" fill="#4878d0"/>
<circle cx="416.8" cy="184.8" r="4.9" fill="#ee854a"/>
<circle cx="471.2" cy="174.9" r="4.9" fill="#ee854a"/>
<circle cx="490.7" cy="227.5" r="4.9" fill="#956cb4"/>
<circle cx="528.7" cy="154.7" r="4.9" fill="#956cb4"/>
<circle cx="476.6" cy="216.9" r="4.9" fill="#d65f5f"/>
<circle cx="460.4" cy="262.8" r="4.9" fill="#d65f5f"/>
<circle cx="340.2" cy="166.1" r="4.9" fill="#797979"/>
<circle cx="468.5" cy="182.6" r="4.9" fill="#ee854a"/>
<circle cx="400.1" cy="291.8" r="4.9" fill="#6acc64"/>
<circle cx="432.2" cy="185.2" r="4.9" fill="#ee854a"/>
<circle cx="375.6" cy="195.9" r="4.9" fill="#dc7ec0"/>
<circle cx="274.5" cy="95.2" r="4.9" fill="#82c6e2"/>
<circle cx="482.6" cy="223.5" r="4.9" fill="#d65f5f"/>
<circle cx="464.1" cy="190.0" r="4.9" fill="#4878d0"/>
<circle cx="399.9" cy="159.0" r="4.9" fill="#797979"/>
<circle cx="479.9" cy="168.1" r="4.9" fill="#ee854a"/>
<circle cx="448.0" cy="224.6" r="4.9" fill="#4878d0"/>
<circle cx="455.1" cy="170.9" r="4.9" fill="#ee854a"/>
<circle cx="418.8" cy="207.0" r="4.9" fill="#dc7ec0"/>
<circle cx="398.7" cy="262.8" r="4.9" fill="#6acc64"/>
<circle cx="365.2" cy="112.4" r="4.9" fill="#8c613c"/>
<circle cx="491.7" cy="268.3" r="4.9" fill="#956cb4"/>
<circle cx="395.6" cy="264.8" r="4.9" fill="#6acc64"/>
<circle cx="446.8" cy="219.5" r="4.9" fill="#4878d0"/>
<circle cx="473.8" cy="185.4" r="4.9" fill="#4878d0"/>
<circle cx="454.8" cy="180.1" r="4.9" fill="#4878d0"/>
<circle cx="439.9" cy="275.4" r="4.9" fill="#6acc64"/>
<circle cx="541.8" cy="153.7" r="4.9" fill="#956cb4"/>
<circle cx="292.7" cy="107.3" r="4.9" fill="#82c6e2"/>
<circle cx="388.5" cy="251.7" r="4.9" fill="#6acc64"/>
<circle cx="377.8" cy="228.7" r="4.9" fill="#6acc64"/>
<circle cx="275.5" cy="99.2" r="4.9" fill="#8c613c"/>
<circle cx="425.9" cy="204.4" r="4.9" fill="#6acc64"/>
<circle cx="248.9" cy="114.0" r="4.9" fill="#82c6e2"/>
<circle cx="421.3" cy="252.3" r="4.9" fill="#6acc64"/>
<circle cx="449.7" cy="183.7" r="4.9" fill="#4878d0"/>
<circle cx="386.7" cy="255.6" r="4.9" fill="#6acc64"/>
<circle cx="471.6" cy="162.1" r="4.9" fill="#ee854a"/>
<circle cx="381.9" cy="272.4" r="4.9" fill="#6acc64"/>
<circle cx="344.1" cy="187.4" r="4.9" fill="#dc7ec0"/>
<circle cx="465.3" cy="202.4" r="4.9" fill="#4878d0"/>
<circle cx="389.1" cy="199.4" r="4.9" fill="#dc7ec0"/>
<circle cx="372.4" cy="197.8" r="4.9" fill="#6acc64"/>
<circle cx="400.9" cy="251.7" r="4.9" fill="#6acc64"/>
<circle cx="413.7" cy="285.4" r="4.9" fill="#6acc64"/>
<circle cx="448.3" cy="261.8" r="4.9" fill="#d65f5f"/>
<circle cx="422.1" cy="226.5" r="4.9" fill="#6acc64"/>
<circle cx="351.5" cy="169.1" r="4.9" fill="#797979"/>
<circle cx="412.7" cy="275.4" r="4.9" fill="#6acc64"/>
<circle cx="422.8" cy="294.5" r="4.9" fill="#d65f5f"/>
<circle cx="419.6" cy="256.4" r="4.9" fill="#6acc64"/>
<circle cx="477.5" cy="152.7" r="4.9" fill="#ee854a"/>
<circle cx="551.9" cy="162.8" r="4.9" fill="#956cb4"/>
<circle cx="415.7" cy="117.4" r="4.9" fill="#8c613c"/>
<circle cx="484.0" cy="164.3" r="4.9" fill="#ee854a"/>
<circle cx="453.9" cy="206.1" r="4.9" fill="#4878d0"/>
<circle cx="417.0" cy="186.1" r="4.9" fill="#4878d0"/>
<circle cx="351.5" cy="109.9" r="4.9" fill="#8c613c"/>
<circle cx="337.4" cy="210.4" r="4.9" fill="#6acc64"/>
<circle cx="355.1" cy="195.9" r="4.9" fill="#6acc64"/>
<circle cx="333.2" cy="136.7" r="4.9" fill="#797979"/>
<circle cx="377.2" cy="215.2" r="4.9" fill="#6acc64"/>
<circle cx="441.6" cy="216.2" r="4.9" fill="#4878d0"/>
<circle cx="370.2" cy="198.1" r="4.9" fill="#6acc64"/>
<circle cx="425.7" cy="203.6" r="4.9" fill="#4878d0"/>
<circle cx="344.5" cy="135.2" r="4.9" fill="#797979"/>
<circle cx="397.1" cy="230.0" r="4.9" fill="#6acc64"/>
<circle cx="396.3" cy="274.2" r="4.9" fill="#6acc64"/>
<circle cx="259.4" cy="133.5" r="4.9" fill="#ee854a"/>
<circle cx="443.8" cy="214.4" r="4.9" fill="#4878d0"/>
<circle cx="308.8" cy="164.8" r="4.9" fill="#ee854a"/>
<circle cx="480.8" cy="179.9" r="4.9" fill="#ee854a"/>
<circle cx="426.6" cy="206.2" r="4.9" fill="#6acc64"/>
<circle cx="462.0" cy="178.0" r="4.9" fill="#ee854a"/>
<circle cx="401.6" cy="121.4" r="4.9" fill="#8c613c"/>
<circle cx="394.2" cy="243.5" r="4.9" fill="#6acc64"/>
<circle cx="327.8" cy="140.3" r="4.9" fill="#ee854a"/>
<circle cx="460.1" cy="204.3" r="4.9" fill="#4878d0"/>
<circle cx="330.2" cy="160.1" r="4.9" fill="#ee854a"/>
<circle cx="384.8" cy="193.2" r="4.9" fill="#dc7ec0"/>
<circle cx="323.4" cy="139.0" r="4.9" fill="#ee854a"/>
<circle cx="441.3" cy="229.6" r="4.9" fill="#4878d0"/>
<circle cx="438.6" cy="190.5" r="4.9" fill="#4878d0"/>
<circle cx="434.2" cy="270.9" r="4.9" fill="#6acc64"/>
<circle cx="501.8" cy="229.6" r="4.9" fill="#956cb4"/>
<circle cx="452.0" cy="211.0" r="4.9" fill="#4878d0"/>
<circle cx="378.8" cy="217.5" r="4.9" fill="#dc7ec0"/>
<circle cx="444.8" cy="211.5" r="4.9" fill="#4878d0"/>
<circle cx="390.5" cy="157.8" r="4.9" fill="#797979"/>
<circle cx="414.7" cy="163.8" r="4.9" fill="#4878d0"/>
<circle cx="377.4" cy="159.8" r="4.9" fill="#d5bb67"/>
<circle cx="491.8" cy="165.8" r="4.9" fill="#ee854a"/>
<circle cx="453.6" cy="220.5" r="4.9" fill="#4878d0"/>
<circle cx="349.2" cy="130.5" r="4.9" fill="#797979"/>
<circle cx="427.2" cy="221.5" r="4.9" fill="#4878d0"/>
<circle cx="377.3" cy="184.6" r="4.9" fill="#dc7ec0"/>
<circle cx="341.0" cy="154.7" r="4.9" fill="#ee854a"/>
<circle cx="444.2" cy="207.2" r="4.9" fill="#4878d0"/>
<circle cx="371.4" cy="217.3" r="4.9" fill="#6acc64"/>
<circle cx="368.1" cy="213.8" r="4.9" fill="#6acc64"/>
<circle cx="286.9" cy="147.3" r="4.9" fill="#ee854a"/>
<circle cx="354.6" cy="197.3" r="4.9" fill="#dc7ec0"/>
<circle cx="460.6" cy="189.9" r="4.9" fill="#4878d0"/>
<circle cx="495.7" cy="244.7" r="4.9" fill="#956cb4"/>
<circle cx="342.6" cy="292.3" r="4.9" fill="#6acc64"/>
<circle cx="325.4" cy="148.2" r="4.9" fill="#ee854a"/>
<circle cx="269.5" cy="93.2" r="4.9" fill="#82c6e2"/>
<circle cx="338.4" cy="219.5" r="4.9" fill="#dc7ec0"/>
<circle cx="346.0" cy="194.6" r="4.9" fill="#dc7ec0"/>
<circle cx="357.2" cy="112.4" r="4.9" fill="#8c613c"/>
<circle cx="281.6" cy="144.6" r="4.9" fill="#ee854a"/>
<circle cx="438.9" cy="166.8" r="4.9" fill="#4878d0"/>
<circle cx="464.2" cy="164.4" r="4.9" fill="#ee854a"/>
<circle cx="253.3" cy="96.2" r="4.9" fill="#82c6e2"/>
<circle cx="450.3" cy="266.9" r="4.9" fill="#6acc64"/>
<circle cx="344.5" cy="212.4" r="4.9" fill="#6acc64"/>
<circle cx="445.3" cy="236.6" r="4.9" fill="#4878d0"/>
<circle cx="465.2" cy="205.7" r="4.9" fill="#4878d0"/>
<circle cx="417.1" cy="235.0" r="4.9" fill="#6acc64"/>
<circle cx="248.3" cy="107.7" r="4.9" fill="#82c6e2"/>
<circle cx="388.9" cy="251.4" r="4.9" fill="#6acc64"/>
<circle cx="406.7" cy="210.9" r="4.9" fill="#dc7ec0"/>
<circle cx="495.7" cy="245.7" r="4.9" fill="#d65f5f"/>
<circle cx="387.1" cy="118.4" r="4.9" fill="#8c613c"/>
<circle cx="472.4" cy="167.3" r="4.9" fill="#ee854a"/>
<circle cx="392.1" cy="281.5" r="4.9" fill="#6acc64"/>
<circle cx="246.7" cy="103.2" r="4.9" fill="#82c6e2"/>
<circle cx="375.4" cy="141.6" r="4.9" fill="#d5bb67"/>
<circle cx="450.3" cy="211.4" r="4.9" fill="#4878d0"/>
<circle cx="275.9" cy="143.6" r="4.9" fill="#ee854a"/>
<circle cx="407.4" cy="245.3" r="4.9" fill="#6acc64"/>
<circle cx="408.6" cy="155.2" r="4.9" fill="#797979"/>
<circle cx="416.7" cy="251.9" r="4.9" fill="#6acc64"/>
<circle cx="323.3" cy="139.2" r="4.9" fill="#ee854a"/>
<circle cx="433.9" cy="128.1" r="4.9" fill="#8c613c"/>
<circle cx="365.6" cy="189.4" r="4.9" fill="#dc7ec0"/>
<circle cx="398.5" cy="252.9" r="4.9" fill="#6acc64"/>
<circle cx="280.6" cy="152.7" r="4.9" fill="#ee854a"/>
<circle cx="426.1" cy="269.9" r="4.9" fill="#6acc64"/>
<circle cx="326.3" cy="159.4" r="4.9" fill="#797979"/>
<circle cx="397.0" cy="256.3" r="4.9" fill="#6acc64"/>
<circle cx="263.4" cy="100.2" r="4.9" fill="#82c6e2"/>
<circle cx="453.3" cy="214.2" r="4.9" fill="#4878d0"/>
<circle cx="434.4" cy="219.6" r="4.9" fill="#d65f5f"/>
<circle cx="384.5" cy="179.4" r="4.9" fill="#dc7ec0"/>
<circle cx="404.2" cy="284.8" r="4.9" fill="#6acc64"/>
<circle cx="346.8" cy="145.3" r="4.9" fill="#797979"/>
<circle cx="261.2" cy="110.2" r="4.9" fill="#82c6e2"/>
<circle cx="452.1" cy="290.9" r="4.9" fill="#d65f5f"/>
<circle cx="377.0" cy="249.0" r="4.9" fill="#6acc64"/>
<circle cx="440.3" cy="265.9" r="4.9" fill="#6acc64"/>
<circle cx="430.9" cy="174.9" r="4.9" fill="#4878d0"/>
<circle cx="437.6" cy="191.9" r="4.9" fill="#4878d0"/>
<circle cx="376.1" cy="197.0" r="4.9" fill="#6acc64"/>
<circle cx="260.2" cy="102.4" r="4.9" fill="#82c6e2"/>
<circle cx="371.8" cy="207.4" r="4.9" fill="#dc7ec0"/>
<circle cx="372.4" cy="300.0" r="4.9" fill="#6acc64"/>
<circle cx="336.4" cy="171.9" r="4.9" fill="#dc7ec0"/>
<circle cx="352.5" cy="98.1" r="4.9" fill="#8c613c"/>
<circle cx="427.2" cy="167.0" r="4.9" fill="#4878d0"/>
<circle cx="395.8" cy="203.6" r="4.9" fill="#6acc64"/>
<circle cx="452.0" cy="213.1" r="4.9" fill="#4878d0"/>
<circle cx="456.6" cy="227.9" r="4.9" fill="#4878d0"/>
<circle cx="397.2" cy="247.6" r="4.9" fill="#6acc64"/>
<circle cx="360.6" cy="227.5" r="4.9" fill="#6acc64"/>
<circle cx="302.1" cy="106.8" r="4.9" fill="#82c6e2"/>
<circle cx="498.5" cy="167.0" r="4.9" fill="#ee854a"/>
<circle cx="388.8" cy="269.9" r="4.9" fill="#6acc64"/>
<circle cx="499.0" cy="186.5" r="4.9" fill="#ee854a"/>
<circle cx="487.7" cy="223.5" r="4.9" fill="#d65f5f"/>
<circle cx="388.5" cy="309.6" r="4.9" fill="#6acc64"/>
<circle cx="543.8" cy="168.8" r="4.9" fill="#956cb4"/>
<circle cx="399.6" cy="294.5" r="4.9" fill="#6acc64"/>
<circle cx="407.0" cy="245.7" r="4.9" fill="#6acc64"/>
<circle cx="318.9" cy="152.7" r="4.9" fill="#ee854a"/>
<circle cx="319.3" cy="192.2" r="4.9" fill="#ee854a"/>
<circle cx="461.6" cy="189.7" r="4.9" fill="#4878d0"/>
<circle cx="331.2" cy="181.4" r="4.9" fill="#6acc64"/>
<circle cx="406.5" cy="263.1" r="4.9" fill="#6acc64"/>
<circle cx="400.6" cy="174.9" r="4.9" fill="#4878d0"/>
<circle cx="387.6" cy="224.4" r="4.9" fill="#6acc64"/>
<circle cx="464.6" cy="195.2" r="4.9" fill="#4878d0"/>
<circle cx="352.8" cy="98.8" r="4.9" fill="#8c613c"/>
<circle cx="246.3" cy="138.5" r="4.9" fill="#82c6e2"/>
<circle cx="404.7" cy="230.0" r="4.9" fill="#6acc64"/>
<circle cx="451.5" cy="198.8" r="4.9" fill="#4878d0"/>
<circle cx="383.5" cy="164.8" r="4.9" fill="#797979"/>
<circle cx="435.9" cy="227.5" r="4.9" fill="#4878d0"/>
<circle cx="453.5" cy="200.0" r="4.9" fill="#4878d0"/>
<circle cx="328.3" cy="193.2" r="4.9" fill="#ee854a"/>
<circle cx="285.4" cy="150.3" r="4.9" fill="#ee854a"/>
<circle cx="436.9" cy="211.1" r="4.9" fill="#4878d0"/>
<circle cx="411.0" cy="169.0" r="4.9" fill="#4878d0"/>
<circle cx="316.6" cy="186.6" r="4.9" fill="#797979"/>
<circle cx="382.3" cy="213.7" r="4.9" fill="#dc7ec0"/>
<circle cx="311.2" cy="188.2" r="4.9" fill="#6acc64"/>
<circle cx="417.5" cy="246.9" r="4.9" fill="#6acc64"/>
<circle cx="442.7" cy="206.7" r="4.9" fill="#4878d0"/>
<circle cx="419.3" cy="267.8" r="4.9" fill="#6acc64"/>
<circle cx="391.6" cy="213.4" r="4.9" fill="#6acc64"/>
<circle cx="296.7" cy="171.8" r="4.9" fill="#ee854a"/>
<circle cx="467.2" cy="280.4" r="4.9" fill="#d65f5f"/>
<circle cx="484.1" cy="152.0" r="4.9" fill="#ee854a"/>
<circle cx="332.4" cy="187.2" r="4.9" fill="#ee854a"/>
<circle cx="299.7" cy="124.4" r="4.9" fill="#82c6e2"/>
<circle cx="360.5" cy="197.6" r="4.9" fill="#dc7ec0"/>
<circle cx="439.2" cy="198.8" r="4.9" fill="#4878d0"/>
<circle cx="426.8" cy="301.6" r="4.9" fill="#6acc64"/>
<circle cx="401.7" cy="209.7" r="4.9" fill="#6acc64"/>
<circle cx="435.4" cy="266.4" r="4.9" fill="#d65f5f"/>
<circle cx="389.0" cy="252.2" r="4.9" fill="#6acc64"/>
<circle cx="430.2" cy="174.1" r="4.9" fill="#4878d0"/>
<circle cx="280.2" cy="177.9" r="4.9" fill="#797979"/>
<circle cx="305.9" cy="146.6" r="4.9" fill="#ee854a"/>
<circle cx="354.2" cy="136.6" r="4.9" fill="#82c6e2"/>
<circle cx="476.1" cy="171.4" r="4.9" fill="#ee854a"/>
<circle cx="388.3" cy="195.6" r="4.9" fill="#dc7ec0"/>
<circle cx="473.4" cy="163.0" r="4.9" fill="#ee854a"/>
<circle cx="316.5" cy="145.8" r="4.9" fill="#797979"/>
<circle cx="421.8" cy="147.7" r="4.9" fill="#d5bb67"/>
<circle cx="413.3" cy="205.1" r="4.9" fill="#dc7ec0"/>
<circle cx="404.1" cy="278.7" r="4.9" fill="#6acc64"/>
<circle cx="447.0" cy="193.7" r="4.9" fill="#4878d0"/>
<circle cx="510.5" cy="150.7" r="4.9" fill="#ee854a"/>
<circle cx="464.1" cy="158.8" r="4.9" fill="#ee854a"/>
<circle cx="411.0" cy="239.6" r="4.9" fill="#6acc64"/>
<circle cx="455.4" cy="219.8" r="4.9" fill="#4878d0"/>
<circle cx="365.2" cy="203.4" r="4.9" fill="#dc7ec0"/>
<circle cx="421.9" cy="203.1" r="4.9" fill="#dc7ec0"/>
<circle cx="286.0" cy="87.7" r="4.9" fill="#82c6e2"/>
<circle cx="404.7" cy="272.8" r="4.9" fill="#6acc64"/>
<circle cx="231.2" cy="87.7" r="4.9" fill="#82c6e2"/>
<circle cx="509.2" cy="168.3" r="4.9" fill="#ee854a"/>
<circle cx="459.4" cy="205.8" r="4.9" fill="#4878d0"/>
<circle cx="244.3" cy="93.2" r="4.9" fill="#82c6e2"/>
<circle cx="445.9" cy="227.2" r="4.9" fill="#4878d0"/>
<circle cx="428.8" cy="282.4" r="4.9" fill="#d65f5f"/>
<circle cx="441.4" cy="196.0" r="4.9" fill="#4878d0"/>
<circle cx="302.7" cy="96.2" r="4.9" fill="#82c6e2"/>
<circle cx="399.6" cy="279.0" r="4.9" fill="#6acc64"/>
<circle cx="391.8" cy="236.9" r="4.9" fill="#6acc64"/>
<circle cx="468.5" cy="215.4" r="4.9" fill="#4878d0"/>
<circle cx="228.1" cy="127.1" r="4.9" fill="#82c6e2"/>
<circle cx="484.8" cy="156.8" r="4.9" fill="#ee854a"/>
<circle cx="484.3" cy="182.7" r="4.9" fill="#ee854a"/>
<circle cx="402.7" cy="264.5" r="4.9" fill="#6acc64"/>
<circle cx="437.5" cy="187.4" r="4.9" fill="#4878d0"/>
<circle cx="268.6" cy="109.1" r="4.9" fill="#82c6e2"/>
<circle cx="249.3" cy="124.4" r="4.9" fill="#82c6e2"/>
<circle cx="390.3" cy="264.4" r="4.9" fill="#6acc64"/>
<circle cx="463.5" cy="193.2" r="4.9" fill="#4878d0"/>
<circle cx="454.0" cy="223.0" r="4.9" fill="#4878d0"/>
<circle cx="430.3" cy="207.1" r="4.9" fill="#6acc64"/>
<circle cx="398.3" cy="231.9" r="4.9" fill="#6acc64"/>
<circle cx="335.8" cy="142.5" r="4.9" fill="#797979"/>
<circle cx="521.6" cy="150.3" r="4.9" fill="#ee854a"/>
<circle cx="380.9" cy="230.5" r="4.9" fill="#6acc64"/>
<circle cx="349.2" cy="124.5" r="4.9" fill="#8c613c"/>
<circle cx="347.4" cy="175.1" r="4.9" fill="#dc7ec0"/>
<circle cx="472.5" cy="191.2" r="4.9" fill="#4878d0"/>
<circle cx="450.8" cy="207.4" r="4.9" fill="#4878d0"/>
<circle cx="491.4" cy="161.6" r="4.9" fill="#ee854a"/>
<circle cx="250.3" cy="108.7" r="4.9" fill="#82c6e2"/>
<circle cx="434.2" cy="189.6" r="4.9" fill="#4878d0"/>
<circle cx="448.1" cy="177.8" r="4.9" fill="#ee854a"/>
<circle cx="452.4" cy="242.7" r="4.9" fill="#d65f5f"/>
<circle cx="348.0" cy="137.4" r="4.9" fill="#797979"/>
<circle cx="465.0" cy="215.2" r="4.9" fill="#4878d0"/>
<circle cx="368.6" cy="156.7" r="4.9" fill="#797979"/>
<circle cx="470.5" cy="184.2" r="4.9" fill="#ee854a"/>
<circle cx="404.1" cy="168.6" r="4.9" fill="#797979"/>
<circle cx="376.7" cy="249.7" r="4.9" fill="#6acc64"/>
<circle cx="407.3" cy="286.9" r="4.9" fill="#6acc64"/>
<circle cx="462.2" cy="172.3" r="4.9" fill="#ee854a"/>
<circle cx="332.6" cy="155.9" r="4.9" fill="#ee854a"/>
<circle cx="398.9" cy="211.4" r="4.9" fill="#dc7ec0"/>
<circle cx="519.5" cy="236.6" r="4.9" fill="#956cb4"/>
<circle cx="414.9" cy="172.1" r="4.9" fill="#4878d0"/>
<circle cx="266.8" cy="111.7" r="4.9" fill="#82c6e2"/>
<circle cx="397.8" cy="251.9" r="4.9" fill="#6acc64"/>
<circle cx="403.0" cy="201.3" r="4.9" fill="#dc7ec0"/>
<circle cx="438.2" cy="199.3" r="4.9" fill="#4878d0"/>
<circle cx="511.9" cy="180.1" r="4.9" fill="#ee854a"/>
<circle cx="361.2" cy="108.0" r="4.9" fill="#8c613c"/>
<circle cx="285.0" cy="153.6" r="4.9" fill="#ee854a"/>
<circle cx="309.3" cy="131.3" r="4.9" fill="#ee854a"/>
<circle cx="416.7" cy="246.9" r="4.9" fill="#6acc64"/>
<circle cx="452.4" cy="265.3" r="4.9" fill="#d65f5f"/>
<circle cx="338.4" cy="135.0" r="4.9" fill="#797979"/>
<circle cx="344.1" cy="113.3" r="4.9" fill="#797979"/>
<circle cx="426.8" cy="152.7" r="4.9" fill="#4878d0"/>
<circle cx="419.1" cy="205.3" r="4.9" fill="#4878d0"/>
<circle cx="479.3" cy="153.7" r="4.9" fill="#ee854a"/>
<circle cx="456.2" cy="183.7" r="4.9" fill="#4878d0"/>
<circle cx="406.1" cy="261.9" r="4.9" fill="#6acc64"/>
<circle cx="278.5" cy="134.5" r="4.9" fill="#ee854a"/>
<circle cx="478.6" cy="189.2" r="4.9" fill="#4878d0"/>
<circle cx="414.5" cy="237.8" r="4.9" fill="#6acc64"/>
<circle cx="345.1" cy="210.7" r="4.9" fill="#6acc64"/>
<circle cx="388.3" cy="262.1" r="4.9" fill="#6acc64"/>
<circle cx="461.9" cy="173.0" r="4.9" fill="#ee854a"/>
<circle cx="401.8" cy="246.0" r="4.9" fill="#6acc64"/>
<circle cx="419.0" cy="293.0" r="4.9" fill="#d65f5f"/>
<circle cx="367.7" cy="263.8" r="4.9" fill="#6acc64"/>
<circle cx="327.6" cy="153.9" r="4.9" fill="#ee854a"/>
<circle cx="259.2" cy="102.6" r="4.9" fill="#82c6e2"/>
<circle cx="358.6" cy="179.1" r="4.9" fill="#797979"/>
<circle cx="349.4" cy="197.2" r="4.9" fill="#dc7ec0"/>
<circle cx="371.8" cy="228.7" r="4.9" fill="#6acc64"/>
<circle cx="451.2" cy="178.3" r="4.9" fill="#ee854a"/>
<circle cx="388.5" cy="263.4" r="4.9" fill="#6acc64"/>
<circle cx="461.2" cy="226.6" r="4.9" fill="#4878d0"/>
<circle cx="484.6" cy="250.7" r="4.9" fill="#d65f5f"/>
<circle cx="379.8" cy="259.8" r="4.9" fill="#6acc64"/>
<circle cx="449.0" cy="146.7" r="4.9" fill="#4878d0"/>
<circle cx="354.0" cy="178.9" r="4.9" fill="#dc7ec0"/>
<circle cx="321.9" cy="150.2" r="4.9" fill="#ee854a"/>
<circle cx="537.8" cy="149.7" r="4.9" fill="#956cb4"/>
<circle cx="318.9" cy="118.4" r="4.9" fill="#797979"/>
<circle cx="299.1" cy="106.4" r="4.9" fill="#82c6e2"/>
<circle cx="413.1" cy="220.5" r="4.9" fill="#6acc64"/>
<circle cx="455.4" cy="167.5" r="4.9" fill="#ee854a"/>
<circle cx="379.1" cy="135.6" r="4.9" fill="#797979"/>
<circle cx="463.1" cy="151.7" r="4.9" fill="#ee854a"/>
<circle cx="426.0" cy="217.4" r="4.9" fill="#6acc64"/>
<circle cx="388.5" cy="143.6" r="4.9" fill="#797979"/>
<circle cx="370.3" cy="130.5" r="4.9" fill="#797979"/>
<circle cx="351.0" cy="194.6" r="4.9" fill="#dc7ec0"/>
<circle cx="321.7" cy="191.7" r="4.9" fill="#6acc64"/>
<circle cx="494.8" cy="143.0" r="4.9" fill="#ee854a"/>
<circle cx="277.2" cy="113.1" r="4.9" fill="#82c6e2"/>
<circle cx="381.6" cy="217.1" r="4.9" fill="#6acc64"/>
<circle cx="466.5" cy="204.3" r="4.9" fill="#4878d0"/>
<circle cx="413.7" cy="171.0" r="4.9" fill="#4878d0"/>
<circle cx="408.0" cy="190.5" r="4.9" fill="#dc7ec0"/>
<circle cx="490.7" cy="179.1" r="4.9" fill="#ee854a"/>
<circle cx="493.6" cy="162.6" r="4.9" fill="#ee854a"/>
<circle cx="396.6" cy="262.5" r="4.9" fill="#6acc64"/>
<circle cx="366.4" cy="204.3" r="4.9" fill="#6acc64"/>
<circle cx="328.2" cy="139.8" r="4.9" fill="#797979"/>
<circle cx="482.3" cy="175.9" r="4.9" fill="#ee854a"/>
<circle cx="323.4" cy="129.4" r="4.9" fill="#82c6e2"/>
<circle cx="386.8" cy="219.5" r="4.9" fill="#dc7ec0"/>
<circle cx="394.9" cy="186.2" r="4.9" fill="#6acc64"/>
<circle cx="448.5" cy="222.3" r="4.9" fill="#4878d0"/>
<circle cx="417.2" cy="177.3" r="4.9" fill="#4878d0"/>
<circle cx="272.2" cy="113.8" r="4.9" fill="#82c6e2"/>
<circle cx="351.8" cy="157.0" r="4.9" fill="#797979"/>
<circle cx="417.7" cy="213.9" r="4.9" fill="#dc7ec0"/>
<circle cx="402.1" cy="259.2" r="4.9" fill="#6acc64"/>
<circle cx="499.8" cy="185.2" r="4.9" fill="#ee854a"/>
<circle cx="405.0" cy="116.4" r="4.9" fill="#797979"/>
<circle cx="264.4" cy="157.7" r="4.9" fill="#8c613c"/>
<circle cx="348.9" cy="252.1" r="4.9" fill="#6acc64"/>
<circle cx="365.9" cy="118.0" r="4.9" fill="#82c6e2"/>
<circle cx="312.2" cy="180.1" r="4.9" fill="#6acc64"/>
<circle cx="400.6" cy="160.8" r="4.9" fill="#4878d0"/>
<circle cx="440.1" cy="206.8" r="4.9" fill="#4878d0"/>
<circle cx="442.8" cy="212.8" r="4.9" fill="#4878d0"/>
<circle cx="413.3" cy="98.2" r="4.9" fill="#8c613c"/>
<circle cx="517.6" cy="172.9" r="4.9" fill="#956cb4"/>
<circle cx="408.7" cy="250.4" r="4.9" fill="#6acc64"/>
<circle cx="397.9" cy="167.1" r="4.9" fill="#4878d0"/>
<circle cx="463.1" cy="166.8" r="4.9" fill="#ee854a"/>
<circle cx="496.7" cy="225.5" r="4.9" fill="#956cb4"/>
<circle cx="397.0" cy="254.7" r="4.9" fill="#6acc64"/>
<circle cx="292.7" cy="154.6" r="4.9" fill="#ee854a"/>
<circle cx="383.4" cy="260.8" r="4.9" fill="#6acc64"/>
<circle cx="418.8" cy="143.6" r="4.9" fill="#4878d0"/>
<circle cx="314.8" cy="146.6" r="4.9" fill="#ee854a"/>
<circle cx="490.1" cy="171.5" r="4.9" fill="#ee854a"/>
<circle cx="440.5" cy="223.3" r="4.9" fill="#4878d0"/>
<circle cx="518.6" cy="165.8" r="4.9" fill="#ee854a"/>
<circle cx="414.0" cy="205.3" r="4.9" fill="#dc7ec0"/>
<circle cx="494.7" cy="200.3" r="4.9" fill="#d65f5f"/>
<circle cx="384.5" cy="228.1" r="4.9" fill="#6acc64"/>
<circle cx="408.7" cy="173.9" r="4.9" fill="#4878d0"/>
<circle cx="449.6" cy="255.7" r="4.9" fill="#d65f5f"/>
<circle cx="416.1" cy="253.8" r="4.9" fill="#6acc64"/>
<circle cx="370.3" cy="172.9" r="4.9" fill="#dc7ec0"/>
<circle cx="398.9" cy="239.6" r="4.9" fill="#6acc64"/>
<circle cx="562.4" cy="144.2" r="4.9" fill="#956cb4"/>
<circle cx="479.6" cy="269.9" r="4.9" fill="#d65f5f"/>
<circle cx="226.1" cy="118.4" r="4.9" fill="#82c6e2"/>
<circle cx="413.1" cy="256.8" r="4.9" fill="#6acc64"/>
<circle cx="381.8" cy="204.3" r="4.9" fill="#dc7ec0"/>
<circle cx="426.2" cy="218.7" r="4.9" fill="#4878d0"/>
<circle cx="465.4" cy="196.3" r="4.9" fill="#4878d0"/>
<circle cx="435.9" cy="202.1" r="4.9" fill="#4878d0"/>
<circle cx="287.4" cy="100.2" r="4.9" fill="#82c6e2"/>
<circle cx="302.7" cy="156.7" r="4.9" fill="#ee854a"/>
<circle cx="424.5" cy="158.7" r="4.9" fill="#4878d0"/>
<circle cx="454.1" cy="119.4" r="4.9" fill="#8c613c"/>
<circle cx="303.8" cy="104.3" r="4.9" fill="#82c6e2"/>
<circle cx="505.8" cy="239.6" r="4.9" fill="#956cb4"/>
<circle cx="462.8" cy="217.3" r="4.9" fill="#4878d0"/>
<circle cx="487.5" cy="163.4" r="4.9" fill="#ee854a"/>
<circle cx="276.5" cy="141.6" r="4.9" fill="#ee854a"/>
<circle cx="328.0" cy="172.8" r="4.9" fill="#ee854a"/>
<circle cx="433.9" cy="266.6" r="4.9" fill="#d65f5f"/>
<circle cx="329.0" cy="158.7" r="4.9" fill="#ee854a"/>
<circle cx="433.2" cy="227.5" r="4.9" fill="#4878d0"/>
<circle cx="325.9" cy="106.3" r="4.9" fill="#8c613c"/>
<circle cx="451.7" cy="302.2" r="4.9" fill="#d65f5f"/>
<circle cx="284.0" cy="138.1" r="4.9" fill="#ee854a"/>
<circle cx="378.3" cy="154.2" r="4.9" fill="#797979"/>
<circle cx="298.4" cy="152.3" r="4.9" fill="#ee854a"/>
<circle cx="399.0" cy="262.5" r="4.9" fill="#6acc64"/>
<circle cx="362.0" cy="153.9" r="4.9" fill="#797979"/>
<circle cx="383.6" cy="287.6" r="4.9" fill="#6acc64"/>
<circle cx="337.4" cy="162.0" r="4.9" fill="#ee854a"/>
<circle cx="481.3" cy="161.8" r="4.9" fill="#ee854a"/>
<circle cx="297.1" cy="142.3" r="4.9" fill="#ee854a"/>
<circle cx="416.6" cy="151.5" r="4.9" fill="#4878d0"/>
<circle cx="247.3" cy="106.3" r="4.9" fill="#82c6e2"/>
<circle cx="432.2" cy="204.3" r="4.9" fill="#dc7ec0"/>
<circle cx="310.8" cy="154.7" r="4.9" fill="#ee854a"/>
<circle cx="440.2" cy="177.6" r="4.9" fill="#ee854a"/>
<circle cx="344.5" cy="123.1" r="4.9" fill="#8c613c"/>
<circle cx="441.0" cy="253.9" r="4.9" fill="#d65f5f"/>
<circle cx="329.0" cy="111.3" r="4.9" fill="#8c613c"/>
<circle cx="429.8" cy="206.3" r="4.9" fill="#4878d0"/>
<circle cx="319.1" cy="178.8" r="4.9" fill="#6acc64"/>
<circle cx="400.5" cy="227.0" r="4.9" fill="#6acc64"/>
<circle cx="426.2" cy="250.7" r="4.9" fill="#d65f5f"/>
<circle cx="409.1" cy="212.9" r="4.9" fill="#dc7ec0"/>
<circle cx="425.8" cy="265.3" r="4.9" fill="#6acc64"/>
<circle cx="448.5" cy="191.8" r="4.9" fill="#4878d0"/>
<circle cx="475.2" cy="170.9" r="4.9" fill="#ee854a"/>
<circle cx="440.0" cy="187.8" r="4.9" fill="#4878d0"/>
<circle cx="450.3" cy="203.3" r="4.9" fill="#4878d0"/>
<circle cx="466.2" cy="263.5" r="4.9" fill="#d65f5f"/>
<circle cx="292.7" cy="145.6" r="4.9" fill="#ee854a"/>
<circle cx="393.1" cy="266.7" r="4.9" fill="#6acc64"/>
<circle cx="416.7" cy="156.7" r="4.9" fill="#4878d0"/>
<circle cx="385.1" cy="192.1" r="4.9" fill="#6acc64"/>
<circle cx="519.1" cy="227.5" r="4.9" fill="#956cb4"/>
<circle cx="413.0" cy="215.4" r="4.9" fill="#dc7ec0"/>
<circle cx="451.3" cy="209.8" r="4.9" fill="#4878d0"/>
<circle cx="437.2" cy="215.9" r="4.9" fill="#4878d0"/>
<circle cx="478.5" cy="168.9" r="4.9" fill="#ee854a"/>
<circle cx="324.9" cy="166.8" r="4.9" fill="#797979"/>
<circle cx="329.8" cy="148.7" r="4.9" fill="#ee854a"/>
<circle cx="479.6" cy="241.7" r="4.9" fill="#d65f5f"/>
<circle cx="460.0" cy="211.1" r="4.9" fill="#4878d0"/>
<circle cx="276.0" cy="143.6" r="4.9" fill="#ee854a"/>
<circle cx="260.4" cy="161.7" r="4.9" fill="#797979"/>
<circle cx="464.8" cy="204.7" r="4.9" fill="#4878d0"/>
<circle cx="376.8" cy="99.3" r="4.9" fill="#8c613c"/>
<circle cx="414.4" cy="173.2" r="4.9" fill="#4878d0"/>
<circle cx="280.0" cy="116.7" r="4.9" fill="#82c6e2"/>
<circle cx="285.4" cy="111.8" r="4.9" fill="#82c6e2"/>
<circle cx="445.8" cy="200.5" r="4.9" fill="#4878d0"/>
<circle cx="466.3" cy="174.8" r="4.9" fill="#ee854a"/>
<circle cx="403.2" cy="204.1" r="4.9" fill="#6acc64"/>
<circle cx="397.7" cy="281.1" r="4.9" fill="#6acc64"/>
<circle cx="397.3" cy="256.3" r="4.9" fill="#6acc64"/>
<circle cx="498.4" cy="164.8" r="4.9" fill="#ee854a"/>
<circle cx="297.7" cy="185.2" r="4.9" fill="#ee854a"/>
<circle cx="492.7" cy="217.5" r="4.9" fill="#956cb4"/>
<circle cx="353.5" cy="215.4" r="4.9" fill="#6acc64"/>
<circle cx="386.5" cy="204.6" r="4.9" fill="#6acc64"/>
<circle cx="447.6" cy="224.3" r="4.9" fill="#4878d0"/>
<circle cx="464.5" cy="269.9" r="4.9" fill="#956cb4"/>
<circle cx="421.7" cy="258.0" r="4.9" fill="#6acc64"/>
<circle cx="414.2" cy="193.1" r="4.9" fill="#dc7ec0"/>
<circle cx="304.8" cy="150.6" r="4.9" fill="#ee854a"/>
<circle cx="431.9" cy="118.4" r="4.9" fill="#8c613c"/>
<circle cx="362.1" cy="189.5" r="4.9" fill="#dc7ec0"/>
<circle cx="434.9" cy="158.8" r="4.9" fill="#4878d0"/>
<circle cx="417.8" cy="139.6" r="4.9" fill="#797979"/>
<circle cx="290.0" cy="138.3" r="4.9" fill="#ee854a"/>
<circle cx="381.1" cy="149.1" r="4.9" fill="#797979"/>
<circle cx="386.4" cy="233.5" r="4.9" fill="#6acc64"/>
<circle cx="391.2" cy="273.9" r="4.9" fill="#6acc64"/>
<circle cx="328.3" cy="129.4" r="4.9" fill="#82c6e2"/>
<circle cx="480.1" cy="152.4" r="4.9" fill="#ee854a"/>
<circle cx="450.1" cy="213.4" r="4.9" fill="#4878d0"/>
<circle cx="481.3" cy="145.0" r="4.9" fill="#ee854a"/>
<circle cx="332.0" cy="153.7" r="4.9" fill="#dc7ec0"/>
<circle cx="466.1" cy="158.3" r="4.9" fill="#ee854a"/>
<circle cx="404.6" cy="163.7" r="4.9" fill="#797979"/>
<circle cx="410.4" cy="205.5" r="4.9" fill="#dc7ec0"/>
<circle cx="413.0" cy="177.1" r="4.9" fill="#797979"/>
<circle cx="396.7" cy="198.2" r="4.9" fill="#dc7ec0"/>
<circle cx="326.9" cy="129.5" r="4.9" fill="#82c6e2"/>
<circle cx="392.9" cy="281.2" r="4.9" fill="#6acc64"/>
<circle cx="465.0" cy="212.5" r="4.9" fill="#4878d0"/>
<circle cx="385.5" cy="317.1" r="4.9" fill="#d65f5f"/>
<circle cx="445.1" cy="204.3" r="4.9" fill="#4878d0"/>
<circle cx="345.0" cy="186.6" r="4.9" fill="#6acc64"/>
<circle cx="465.7" cy="195.2" r="4.9" fill="#4878d0"/>
<circle cx="430.2" cy="203.3" r="4.9" fill="#4878d0"/>
<circle cx="378.5" cy="204.8" r="4.9" fill="#dc7ec0"/>
<circle cx="274.5" cy="122.4" r="4.9" fill="#ee854a"/>
<circle cx="493.2" cy="184.1" r="4.9" fill="#ee854a"/>
<circle cx="380.9" cy="256.7" r="4.9" fill="#6acc64"/>
<circle cx="476.9" cy="185.5" r="4.9" fill="#ee854a"/>
<circle cx="382.8" cy="191.1" r="4.9" fill="#dc7ec0"/>
<circle cx="367.3" cy="143.0" r="4.9" fill="#82c6e2"/>
<circle cx="319.8" cy="161.1" r="4.9" fill="#ee854a"/>
<circle cx="336.1" cy="128.5" r="4.9" fill="#ee854a"/>
<circle cx="292.7" cy="122.4" r="4.9" fill="#82c6e2"/>
<circle cx="379.4" cy="286.4" r="4.9" fill="#6acc64"/>
<circle cx="402.1" cy="255.5" r="4.9" fill="#6acc64"/>
<circle cx="309.2" cy="151.0" r="4.9" fill="#ee854a"/>
<circle cx="392.1" cy="222.9" r="4.9" fill="#6acc64"/>
<circle cx="275.5" cy="119.4" r="4.9" fill="#82c6e2"/>
<circle cx="456.4" cy="231.6" r="4.9" fill="#4878d0"/>
<circle cx="437.7" cy="220.7" r="4.9" fill="#4878d0"/>
<circle cx="386.5" cy="114.0" r="4.9" fill="#82c6e2"/>
<circle cx="374.7" cy="213.4" r="4.9" fill="#dc7ec0"/>
<circle cx="500.7" cy="163.0" r="4.9" fill="#ee854a"/>
<circle cx="340.4" cy="173.1" r="4.9" fill="#ee854a"/>
<circle cx="419.2" cy="246.6" r="4.9" fill="#6acc64"/>
</g>
<g class="labels">
<text id="lb_IY" class="lb" x="262.72" y="110.5" textLength="18.02" lengthAdjust="spacingAndGlyphs">IY</text>
<text id="lb_UW" class="lb" x="343.90" y="109.7" textLength="29.64" lengthAdjust="spacingAndGlyphs">UW</text>
<text id="lb_EY" class="lb" x="285.50" y="147.6" textLength="22.93" lengthAdjust="spacingAndGlyphs">EY</text>
<text id="lb_IH" class="lb" x="331.56" y="150.4" textLength="18.39" lengthAdjust="spacingAndGlyphs">IH</text>
<text id="lb_UH" class="lb" x="356.00" y="154.2" textLength="26.59" lengthAdjust="spacingAndGlyphs">UH</text>
<text id="lb_ER" class="lb" x="392.34" y="152.2" textLength="22.45" lengthAdjust="spacingAndGlyphs">ER</text>
<text id="lb_OW" class="lb" x="444.70" y="167.6" textLength="30.86" lengthAdjust="spacingAndGlyphs">OW</text>
<text id="lb_EH" class="lb" x="356.90" y="198.7" textLength="23.94" lengthAdjust="spacingAndGlyphs">EH</text>
<text id="lb_AH" class="lb" x="419.12" y="200.5" textLength="25.81" lengthAdjust="spacingAndGlyphs">AH</text>
<text id="lb_AO" class="lb" x="469.22" y="204.6" textLength="26.18" lengthAdjust="spacingAndGlyphs">AO</text>
<text id="lb_AE" class="lb" x="370.04" y="240.6" textLength="23.25" lengthAdjust="spacingAndGlyphs">AE</text>
<text id="lb_AA" class="lb" x="418.78" y="250.6" textLength="24.49" lengthAdjust="spacingAndGlyphs">AA</text>
</g>
<rect x="75.5" y="30.5" width="620" height="462" fill="none" stroke="#000" stroke-width="1.1"/>
<g class="ticks">
<line x1="75.5" y1="492.5" x2="75.5" y2="497.4" class="tk"/>
<text id="xt_3000" class="tl" x="56.44" y="513.2" textLength="35.29" lengthAdjust="spacingAndGlyphs">3000</text>
<line x1="182.5" y1="492.5" x2="182.5" y2="497.4" class="tk"/>
<text id="xt_2500" class="tl" x="163.76" y="513.2" textLength="34.89" lengthAdjust="spacingAndGlyphs">2500</text>
<line x1="289.5" y1="492.5" x2="289.5" y2="497.4" class="tk"/>
<text id="xt_2000" class="tl" x="270.26" y="513.2" textLength="35.59" lengthAdjust="spacingAndGlyphs">2000</text>
<line x1="395.5" y1="492.5" x2="395.5" y2="497.4" class="tk"/>
<text id="xt_1500" class="tl" x="377.86" y="513.2" textLength="34.71" lengthAdjust="spacingAndGlyphs">1500</text>
<line x1="502.5" y1="492.5" x2="502.5" y2="497.4" class="tk"/>
<text id="xt_1000" class="tl" x="484.92" y="513.2" textLength="34.71" lengthAdjust="spacingAndGlyphs">1000</text>
<line x1="609.5" y1="492.5" x2="609.5" y2="497.4" class="tk"/>
<text id="xt_500" class="tl" x="595.96" y="513.2" textLength="26.13" lengthAdjust="spacingAndGlyphs">500</text>
<line x1="70.3" y1="30.5" x2="75.5" y2="30.5" class="tk"/>
<text id="yt_200" class="tl" x="37.98" y="35.5" textLength="27.19" lengthAdjust="spacingAndGlyphs">200</text>
<line x1="70.3" y1="122.5" x2="75.5" y2="122.5" class="tk"/>
<text id="yt_400" class="tl" x="38.32" y="128.0" textLength="26.17" lengthAdjust="spacingAndGlyphs">400</text>
<line x1="70.3" y1="215.5" x2="75.5" y2="215.5" class="tk"/>
<text id="yt_600" class="tl" x="37.52" y="220.4" textLength="27.91" lengthAdjust="spacingAndGlyphs">600</text>
<line x1="70.3" y1="307.5" x2="75.5" y2="307.5" class="tk"/>
<text id="yt_800" class="tl" x="37.52" y="312.8" textLength="27.91" lengthAdjust="spacingAndGlyphs">800</text>
<line x1="70.3" y1="399.5" x2="75.5" y2="399.5" class="tk"/>
<text id="yt_1000" class="tl" x="30.52" y="405.2" textLength="34.63" lengthAdjust="spacingAndGlyphs">1000</text>
<line x1="70.3" y1="492.5" x2="75.5" y2="492.5" class="tk"/>
<text id="yt_1200" class="tl" x="29.76" y="497.6" textLength="34.29" lengthAdjust="spacingAndGlyphs">1200</text>
</g>
<text id="title" class="ti" x="301.10" y="21.6" textLength="168.97" lengthAdjust="spacingAndGlyphs">Vowel space for S02</text>
<text id="xlabel" class="tl" x="359.34" y="532.6" textLength="50.84" lengthAdjust="spacingAndGlyphs">F2 (Hz)</text>
<text id="ylabel" class="tl" transform="translate(20.3,285.90) rotate(-90)" textLength="48.50" lengthAdjust="spacingAndGlyphs">F1 (Hz)</text>
<g class="legend">
<rect x="82.5" y="166.0" width="143.0" height="319.2" rx="2.6" ry="2.6" fill="#fff" fill-opacity="0.8" stroke="#ccc" stroke-opacity="0.8" stroke-width="1"/>
<text id="lg_phones_short" class="tl" x="125.64" y="184.2" textLength="92.34" lengthAdjust="spacingAndGlyphs">phones_short</text>
<circle cx="101.5" cy="199.9" r="4.75" fill="#4878d0" fill-opacity="0.7"/>
<text id="lg_AH" class="tl" x="126.00" y="205.1" textLength="19.41" lengthAdjust="spacingAndGlyphs">AH</text>
<circle cx="101.5" cy="220.8" r="4.75" fill="#ee854a" fill-opacity="0.7"/>
<text id="lg_OW" class="tl" x="126.44" y="226.0" textLength="23.20" lengthAdjust="spacingAndGlyphs">OW</text>
<circle cx="101.5" cy="241.7" r="4.75" fill="#6acc64" fill-opacity="0.7"/>
<text id="lg_AE" class="tl" x="125.68" y="246.9" textLength="17.11" lengthAdjust="spacingAndGlyphs">AE</text>
<circle cx="101.5" cy="262.6" r="4.75" fill="#d65f5f" fill-opacity="0.7"/>
<text id="lg_AA" class="tl" x="125.76" y="267.8" textLength="18.74" lengthAdjust="spacingAndGlyphs">AA</text>
<circle cx="101.5" cy="283.6" r="4.75" fill="#956cb4" fill-opacity="0.7"/>
<text id="lg_AO" class="tl" x="126.08" y="288.7" textLength="19.96" lengthAdjust="spacingAndGlyphs">AO</text>
<circle cx="101.5" cy="304.5" r="4.75" fill="#8c613c" fill-opacity="0.7"/>
<text id="lg_UW" class="tl" x="125.64" y="309.6" textLength="22.87" lengthAdjust="spacingAndGlyphs">UW</text>
<circle cx="101.5" cy="325.4" r="4.75" fill="#dc7ec0" fill-opacity="0.7"/>
<text id="lg_EH" class="tl" x="126.32" y="330.5" textLength="18.86" lengthAdjust="spacingAndGlyphs">EH</text>
<circle cx="101.5" cy="346.3" r="4.75" fill="#797979" fill-opacity="0.7"/>
<text id="lg_IH" class="tl" x="126.48" y="351.4" textLength="14.84" lengthAdjust="spacingAndGlyphs">IH</text>
<circle cx="101.5" cy="367.2" r="4.75" fill="#d5bb67" fill-opacity="0.7"/>
<text id="lg_UH" class="tl" x="125.40" y="372.3" textLength="20.48" lengthAdjust="spacingAndGlyphs">UH</text>
<circle cx="101.5" cy="388.1" r="4.75" fill="#82c6e2" fill-opacity="0.7"/>
<text id="lg_IY" class="tl" x="126.82" y="393.2" textLength="12.15" lengthAdjust="spacingAndGlyphs">IY</text>
<circle cx="101.5" cy="409.0" r="4.75" fill="#4878d0" fill-opacity="0.7"/>
<text id="lg_ER" class="tl" x="126.98" y="414.2" textLength="18.21" lengthAdjust="spacingAndGlyphs">ER</text>
<circle cx="101.5" cy="429.9" r="4.75" fill="#ee854a" fill-opacity="0.7"/>
<text id="lg_EY" class="tl" x="126.90" y="435.1" textLength="16.71" lengthAdjust="spacingAndGlyphs">EY</text>
<text id="lg_speaker" class="tl" x="126.74" y="456.0" textLength="54.29" lengthAdjust="spacingAndGlyphs">speaker</text>
<circle cx="101.5" cy="471.7" r="4.75" fill="#333" fill-opacity="0.7"/>
<text id="lg_S02" class="tl" x="126.98" y="476.9" textLength="25.19" lengthAdjust="spacingAndGlyphs">S02</text>
</g>
</svg>
</body></html>
